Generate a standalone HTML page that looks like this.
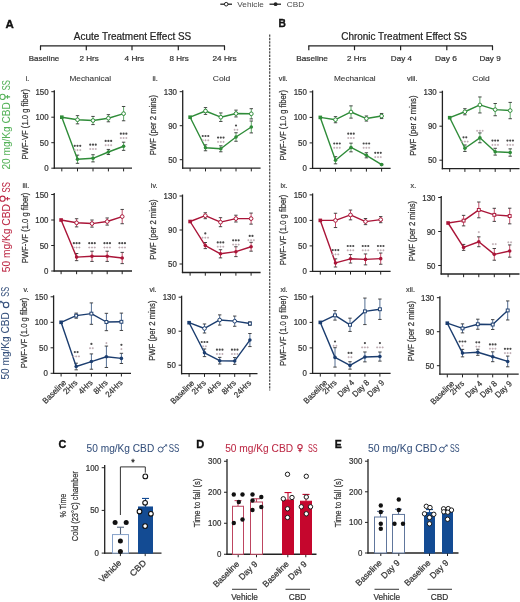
<!DOCTYPE html>
<html><head><meta charset="utf-8"><style>
html,body{margin:0;padding:0;background:#fff;}
body{width:520px;height:602px;overflow:hidden;}
svg{display:block;font-family:"Liberation Sans",sans-serif;filter:blur(0.3px);}
</style></head><body>
<svg width="520" height="602" viewBox="0 0 520 602">
<rect width="520" height="602" fill="#fff"/>
<line x1="220.30" y1="4.20" x2="232.00" y2="4.20" stroke="#222" stroke-width="1.3"/>
<circle cx="226.2" cy="4.2" r="1.8" fill="#fff" stroke="#222" stroke-width="1.0"/>
<text x="237.30" y="7.00" font-size="7.8" fill="#4a4a4a" text-anchor="start" font-weight="normal" textLength="26.5" lengthAdjust="spacingAndGlyphs">Vehicle</text>
<line x1="269.50" y1="4.20" x2="281.00" y2="4.20" stroke="#222" stroke-width="1.3"/>
<circle cx="275.6" cy="4.2" r="1.9" fill="#222"/>
<text x="286.80" y="7.00" font-size="7.8" fill="#4a4a4a" text-anchor="start" font-weight="normal" textLength="17.4" lengthAdjust="spacingAndGlyphs">CBD</text>
<text x="5.50" y="28.20" font-size="11" fill="#111" stroke="#111" stroke-width="0.35" text-anchor="start" font-weight="bold" textLength="8.3" lengthAdjust="spacingAndGlyphs">A</text>
<text x="278.60" y="27.30" font-size="11" fill="#111" stroke="#111" stroke-width="0.35" text-anchor="start" font-weight="bold" textLength="7.4" lengthAdjust="spacingAndGlyphs">B</text>
<text x="73.80" y="40.00" font-size="10.3" fill="#222" stroke="#222" stroke-width="0.22" text-anchor="start" font-weight="normal" textLength="117.5" lengthAdjust="spacingAndGlyphs">Acute Treatment Effect SS</text>
<text x="341.30" y="40.00" font-size="10.3" fill="#222" stroke="#222" stroke-width="0.22" text-anchor="start" font-weight="normal" textLength="125.7" lengthAdjust="spacingAndGlyphs">Chronic Treatment Effect SS</text>
<line x1="40.00" y1="45.80" x2="225.00" y2="45.80" stroke="#222" stroke-width="1.2"/>
<line x1="40.50" y1="45.80" x2="40.50" y2="50.20" stroke="#222" stroke-width="1.2"/>
<line x1="86.30" y1="45.80" x2="86.30" y2="50.20" stroke="#222" stroke-width="1.2"/>
<line x1="132.00" y1="45.80" x2="132.00" y2="50.20" stroke="#222" stroke-width="1.2"/>
<line x1="178.30" y1="45.80" x2="178.30" y2="50.20" stroke="#222" stroke-width="1.2"/>
<line x1="224.50" y1="45.80" x2="224.50" y2="50.20" stroke="#222" stroke-width="1.2"/>
<text x="44.00" y="60.60" font-size="7.6" fill="#333" stroke="#333" stroke-width="0.22" text-anchor="middle" font-weight="normal" textLength="30.5" lengthAdjust="spacingAndGlyphs">Baseline</text>
<text x="89.10" y="60.60" font-size="7.6" fill="#333" stroke="#333" stroke-width="0.22" text-anchor="middle" font-weight="normal" textLength="19.2" lengthAdjust="spacingAndGlyphs">2 Hrs</text>
<text x="134.40" y="60.60" font-size="7.6" fill="#333" stroke="#333" stroke-width="0.22" text-anchor="middle" font-weight="normal" textLength="19.7" lengthAdjust="spacingAndGlyphs">4 Hrs</text>
<text x="179.10" y="60.60" font-size="7.6" fill="#333" stroke="#333" stroke-width="0.22" text-anchor="middle" font-weight="normal" textLength="19.2" lengthAdjust="spacingAndGlyphs">8 Hrs</text>
<text x="224.60" y="60.60" font-size="7.6" fill="#333" stroke="#333" stroke-width="0.22" text-anchor="middle" font-weight="normal" textLength="24.2" lengthAdjust="spacingAndGlyphs">24 Hrs</text>
<line x1="308.30" y1="45.80" x2="493.00" y2="45.80" stroke="#222" stroke-width="1.2"/>
<line x1="308.80" y1="45.80" x2="308.80" y2="50.20" stroke="#222" stroke-width="1.2"/>
<line x1="354.50" y1="45.80" x2="354.50" y2="50.20" stroke="#222" stroke-width="1.2"/>
<line x1="400.60" y1="45.80" x2="400.60" y2="50.20" stroke="#222" stroke-width="1.2"/>
<line x1="446.80" y1="45.80" x2="446.80" y2="50.20" stroke="#222" stroke-width="1.2"/>
<line x1="492.50" y1="45.80" x2="492.50" y2="50.20" stroke="#222" stroke-width="1.2"/>
<text x="312.10" y="60.60" font-size="7.6" fill="#333" stroke="#333" stroke-width="0.22" text-anchor="middle" font-weight="normal" textLength="31.7" lengthAdjust="spacingAndGlyphs">Baseline</text>
<text x="356.60" y="60.60" font-size="7.6" fill="#333" stroke="#333" stroke-width="0.22" text-anchor="middle" font-weight="normal" textLength="19.2" lengthAdjust="spacingAndGlyphs">2 Hrs</text>
<text x="401.40" y="60.60" font-size="7.6" fill="#333" stroke="#333" stroke-width="0.22" text-anchor="middle" font-weight="normal" textLength="21.2" lengthAdjust="spacingAndGlyphs">Day 4</text>
<text x="446.00" y="60.60" font-size="7.6" fill="#333" stroke="#333" stroke-width="0.22" text-anchor="middle" font-weight="normal" textLength="22.0" lengthAdjust="spacingAndGlyphs">Day 6</text>
<text x="490.10" y="60.60" font-size="7.6" fill="#333" stroke="#333" stroke-width="0.22" text-anchor="middle" font-weight="normal" textLength="21.2" lengthAdjust="spacingAndGlyphs">Day 9</text>
<line x1="269.7" y1="34.5" x2="269.7" y2="390.5" stroke="#4a4a4a" stroke-width="1.25" stroke-dasharray="2.3,1.05"/>
<g transform="translate(9.90,169.50) rotate(-90)" fill="#55b259" font-size="10.6">
<text x="0" y="0" textLength="67.3" lengthAdjust="spacingAndGlyphs" stroke="#55b259" stroke-width="0.05">20 mg/Kg CBD</text>
<circle cx="72.60" cy="-7.40" r="2.6" fill="none" stroke="#55b259" stroke-width="1.1"/><path d="M72.60,-4.80V0.2M70.80,-2.40H74.40" stroke="#55b259" stroke-width="1.1" fill="none"/>
<text x="79.3" y="0" textLength="10.1" lengthAdjust="spacingAndGlyphs" stroke="#55b259" stroke-width="0.05">SS</text>
</g>
<g transform="translate(9.90,272.20) rotate(-90)" fill="#bd2945" font-size="10.6">
<text x="0" y="0" textLength="68.0" lengthAdjust="spacingAndGlyphs" stroke="#bd2945" stroke-width="0.05">50 mg/Kg CBD</text>
<circle cx="73.50" cy="-7.40" r="2.6" fill="none" stroke="#bd2945" stroke-width="1.1"/><path d="M73.50,-4.80V0.2M71.70,-2.40H75.30" stroke="#bd2945" stroke-width="1.1" fill="none"/>
<text x="79.7" y="0" textLength="10.4" lengthAdjust="spacingAndGlyphs" stroke="#bd2945" stroke-width="0.05">SS</text>
</g>
<g transform="translate(8.90,379.50) rotate(-90)" fill="#35507c" font-size="10.6">
<text x="0" y="0" textLength="67.3" lengthAdjust="spacingAndGlyphs" stroke="#35507c" stroke-width="0.05">50 mg/Kg CBD</text>
<circle cx="74.60" cy="-2.80" r="2.7" fill="none" stroke="#35507c" stroke-width="1.1"/><path d="M76.02,-5.09L78.20,-8.60" stroke="#35507c" stroke-width="1.1" fill="none"/><path d="M76.20,-8.60H78.20V-6.60" stroke="#35507c" stroke-width="0.7" fill="none"/>
<text x="82.7" y="0" textLength="9.9" lengthAdjust="spacingAndGlyphs" stroke="#35507c" stroke-width="0.05">SS</text>
</g>
<line x1="54.30" y1="90.20" x2="54.30" y2="168.80" stroke="#222" stroke-width="1.3"/>
<line x1="53.70" y1="168.20" x2="132.00" y2="168.20" stroke="#222" stroke-width="1.3"/>
<line x1="51.30" y1="91.70" x2="54.30" y2="91.70" stroke="#222" stroke-width="1.0"/>
<text x="48.60" y="94.70" font-size="8.6" fill="#333" stroke="#333" stroke-width="0.22" text-anchor="end" font-weight="normal" textLength="13.200000000000001" lengthAdjust="spacingAndGlyphs">150</text>
<line x1="51.30" y1="117.20" x2="54.30" y2="117.20" stroke="#222" stroke-width="1.0"/>
<text x="48.60" y="120.20" font-size="8.6" fill="#333" stroke="#333" stroke-width="0.22" text-anchor="end" font-weight="normal" textLength="13.200000000000001" lengthAdjust="spacingAndGlyphs">100</text>
<line x1="51.30" y1="142.70" x2="54.30" y2="142.70" stroke="#222" stroke-width="1.0"/>
<text x="48.60" y="145.70" font-size="8.6" fill="#333" stroke="#333" stroke-width="0.22" text-anchor="end" font-weight="normal" textLength="8.8" lengthAdjust="spacingAndGlyphs">50</text>
<line x1="51.30" y1="168.20" x2="54.30" y2="168.20" stroke="#222" stroke-width="1.0"/>
<text x="48.60" y="171.20" font-size="8.6" fill="#333" stroke="#333" stroke-width="0.22" text-anchor="end" font-weight="normal" textLength="4.4" lengthAdjust="spacingAndGlyphs">0</text>
<line x1="61.80" y1="168.20" x2="61.80" y2="171.40" stroke="#222" stroke-width="1.0"/>
<line x1="77.50" y1="168.20" x2="77.50" y2="171.40" stroke="#222" stroke-width="1.0"/>
<line x1="93.00" y1="168.20" x2="93.00" y2="171.40" stroke="#222" stroke-width="1.0"/>
<line x1="108.40" y1="168.20" x2="108.40" y2="171.40" stroke="#222" stroke-width="1.0"/>
<line x1="123.60" y1="168.20" x2="123.60" y2="171.40" stroke="#222" stroke-width="1.0"/>
<text transform="translate(28.00,124.30) rotate(-90)" font-size="8.6" fill="#333" stroke="#333" stroke-width="0.22" text-anchor="middle" font-weight="normal" textLength="70.5" lengthAdjust="spacingAndGlyphs">PWF-VF (1.0 g fiber)</text>
<text x="29.30" y="81.00" font-size="7.2" fill="#444" stroke="#444" stroke-width="0.22" text-anchor="end" font-weight="normal">i.</text>
<text x="90.30" y="81.20" font-size="8.1" fill="#333" stroke="#333" stroke-width="0.08" text-anchor="middle" font-weight="normal" textLength="41.7" lengthAdjust="spacingAndGlyphs">Mechanical</text>
<line x1="77.50" y1="123.83" x2="77.50" y2="115.67" stroke="#2f8c39" stroke-width="1.0" stroke-opacity="0.75"/>
<line x1="75.80" y1="123.83" x2="79.20" y2="123.83" stroke="#333" stroke-width="0.9"/>
<line x1="75.80" y1="115.67" x2="79.20" y2="115.67" stroke="#333" stroke-width="0.9"/>
<line x1="93.00" y1="124.59" x2="93.00" y2="116.43" stroke="#2f8c39" stroke-width="1.0" stroke-opacity="0.75"/>
<line x1="91.30" y1="124.59" x2="94.70" y2="124.59" stroke="#333" stroke-width="0.9"/>
<line x1="91.30" y1="116.43" x2="94.70" y2="116.43" stroke="#333" stroke-width="0.9"/>
<line x1="108.40" y1="121.79" x2="108.40" y2="114.65" stroke="#2f8c39" stroke-width="1.0" stroke-opacity="0.75"/>
<line x1="106.70" y1="121.79" x2="110.10" y2="121.79" stroke="#333" stroke-width="0.9"/>
<line x1="106.70" y1="114.65" x2="110.10" y2="114.65" stroke="#333" stroke-width="0.9"/>
<line x1="123.60" y1="120.77" x2="123.60" y2="106.49" stroke="#2f8c39" stroke-width="1.0" stroke-opacity="0.75"/>
<line x1="121.90" y1="120.77" x2="125.30" y2="120.77" stroke="#333" stroke-width="0.9"/>
<line x1="121.90" y1="106.49" x2="125.30" y2="106.49" stroke="#333" stroke-width="0.9"/>
<line x1="77.50" y1="163.30" x2="77.50" y2="155.14" stroke="#2f8c39" stroke-width="1.0" stroke-opacity="0.75"/>
<line x1="75.80" y1="163.30" x2="79.20" y2="163.30" stroke="#333" stroke-width="0.9"/>
<line x1="75.80" y1="155.14" x2="79.20" y2="155.14" stroke="#333" stroke-width="0.9"/>
<line x1="93.00" y1="161.88" x2="93.00" y2="154.74" stroke="#2f8c39" stroke-width="1.0" stroke-opacity="0.75"/>
<line x1="91.30" y1="161.88" x2="94.70" y2="161.88" stroke="#333" stroke-width="0.9"/>
<line x1="91.30" y1="154.74" x2="94.70" y2="154.74" stroke="#333" stroke-width="0.9"/>
<line x1="108.40" y1="154.53" x2="108.40" y2="149.43" stroke="#2f8c39" stroke-width="1.0" stroke-opacity="0.75"/>
<line x1="106.70" y1="154.53" x2="110.10" y2="154.53" stroke="#333" stroke-width="0.9"/>
<line x1="106.70" y1="149.43" x2="110.10" y2="149.43" stroke="#333" stroke-width="0.9"/>
<line x1="123.60" y1="150.35" x2="123.60" y2="142.19" stroke="#2f8c39" stroke-width="1.0" stroke-opacity="0.75"/>
<line x1="121.90" y1="150.35" x2="125.30" y2="150.35" stroke="#333" stroke-width="0.9"/>
<line x1="121.90" y1="142.19" x2="125.30" y2="142.19" stroke="#333" stroke-width="0.9"/>
<polyline points="61.80,117.20 77.50,119.75 93.00,120.51 108.40,118.22 123.60,113.63" fill="none" stroke="#2f8c39" stroke-width="1.4" stroke-linejoin="round"/>
<polyline points="61.80,117.20 77.50,159.22 93.00,158.31 108.40,151.98 123.60,146.27" fill="none" stroke="#2f8c39" stroke-width="1.4" stroke-linejoin="round"/>
<circle cx="77.50" cy="119.75" r="1.85" fill="#fff" stroke="#2f8c39" stroke-width="1.0"/>
<circle cx="93.00" cy="120.51" r="1.85" fill="#fff" stroke="#2f8c39" stroke-width="1.0"/>
<circle cx="108.40" cy="118.22" r="1.85" fill="#fff" stroke="#2f8c39" stroke-width="1.0"/>
<circle cx="123.60" cy="113.63" r="1.85" fill="#fff" stroke="#2f8c39" stroke-width="1.0"/>
<circle cx="77.50" cy="159.22" r="1.8" fill="#2f8c39"/>
<circle cx="93.00" cy="158.31" r="1.8" fill="#2f8c39"/>
<circle cx="108.40" cy="151.98" r="1.8" fill="#2f8c39"/>
<circle cx="123.60" cy="146.27" r="1.8" fill="#2f8c39"/>
<rect x="60.00" y="115.40" width="3.6" height="3.6" fill="#2f8c39"/>
<circle cx="74.75" cy="145.80" r="1.1" fill="#4a4a4a"/>
<circle cx="77.50" cy="145.80" r="1.1" fill="#4a4a4a"/>
<circle cx="80.25" cy="145.80" r="1.1" fill="#4a4a4a"/>
<path d="M73.75,150.10h2.0M74.75,149.10v2.0" stroke="#b8a3ab" stroke-width="0.8"/>
<path d="M76.50,150.10h2.0M77.50,149.10v2.0" stroke="#b8a3ab" stroke-width="0.8"/>
<path d="M79.25,150.10h2.0M80.25,149.10v2.0" stroke="#b8a3ab" stroke-width="0.8"/>
<circle cx="90.25" cy="144.70" r="1.1" fill="#4a4a4a"/>
<circle cx="93.00" cy="144.70" r="1.1" fill="#4a4a4a"/>
<circle cx="95.75" cy="144.70" r="1.1" fill="#4a4a4a"/>
<path d="M89.25,149.00h2.0M90.25,148.00v2.0" stroke="#b8a3ab" stroke-width="0.8"/>
<path d="M92.00,149.00h2.0M93.00,148.00v2.0" stroke="#b8a3ab" stroke-width="0.8"/>
<path d="M94.75,149.00h2.0M95.75,148.00v2.0" stroke="#b8a3ab" stroke-width="0.8"/>
<circle cx="105.65" cy="140.90" r="1.1" fill="#4a4a4a"/>
<circle cx="108.40" cy="140.90" r="1.1" fill="#4a4a4a"/>
<circle cx="111.15" cy="140.90" r="1.1" fill="#4a4a4a"/>
<path d="M104.65,145.20h2.0M105.65,144.20v2.0" stroke="#b8a3ab" stroke-width="0.8"/>
<path d="M107.40,145.20h2.0M108.40,144.20v2.0" stroke="#b8a3ab" stroke-width="0.8"/>
<path d="M110.15,145.20h2.0M111.15,144.20v2.0" stroke="#b8a3ab" stroke-width="0.8"/>
<circle cx="120.85" cy="133.70" r="1.1" fill="#4a4a4a"/>
<circle cx="123.60" cy="133.70" r="1.1" fill="#4a4a4a"/>
<circle cx="126.35" cy="133.70" r="1.1" fill="#4a4a4a"/>
<path d="M119.85,138.00h2.0M120.85,137.00v2.0" stroke="#b8a3ab" stroke-width="0.8"/>
<path d="M122.60,138.00h2.0M123.60,137.00v2.0" stroke="#b8a3ab" stroke-width="0.8"/>
<path d="M125.35,138.00h2.0M126.35,137.00v2.0" stroke="#b8a3ab" stroke-width="0.8"/>
<line x1="182.70" y1="90.20" x2="182.70" y2="168.80" stroke="#222" stroke-width="1.3"/>
<line x1="182.10" y1="168.20" x2="260.60" y2="168.20" stroke="#222" stroke-width="1.3"/>
<line x1="179.70" y1="91.70" x2="182.70" y2="91.70" stroke="#222" stroke-width="1.0"/>
<text x="177.00" y="94.70" font-size="8.6" fill="#333" stroke="#333" stroke-width="0.22" text-anchor="end" font-weight="normal" textLength="13.200000000000001" lengthAdjust="spacingAndGlyphs">130</text>
<line x1="179.70" y1="125.70" x2="182.70" y2="125.70" stroke="#222" stroke-width="1.0"/>
<text x="177.00" y="128.70" font-size="8.6" fill="#333" stroke="#333" stroke-width="0.22" text-anchor="end" font-weight="normal" textLength="8.8" lengthAdjust="spacingAndGlyphs">90</text>
<line x1="179.70" y1="159.70" x2="182.70" y2="159.70" stroke="#222" stroke-width="1.0"/>
<text x="177.00" y="162.70" font-size="8.6" fill="#333" stroke="#333" stroke-width="0.22" text-anchor="end" font-weight="normal" textLength="8.8" lengthAdjust="spacingAndGlyphs">50</text>
<line x1="190.10" y1="168.20" x2="190.10" y2="171.40" stroke="#222" stroke-width="1.0"/>
<line x1="205.50" y1="168.20" x2="205.50" y2="171.40" stroke="#222" stroke-width="1.0"/>
<line x1="220.80" y1="168.20" x2="220.80" y2="171.40" stroke="#222" stroke-width="1.0"/>
<line x1="236.00" y1="168.20" x2="236.00" y2="171.40" stroke="#222" stroke-width="1.0"/>
<line x1="251.30" y1="168.20" x2="251.30" y2="171.40" stroke="#222" stroke-width="1.0"/>
<text transform="translate(156.40,125.20) rotate(-90)" font-size="8.6" fill="#333" stroke="#333" stroke-width="0.22" text-anchor="middle" font-weight="normal" textLength="60.3" lengthAdjust="spacingAndGlyphs">PWF (per 2 mins)</text>
<text x="157.70" y="81.00" font-size="7.2" fill="#444" stroke="#444" stroke-width="0.22" text-anchor="end" font-weight="normal">ii.</text>
<text x="221.50" y="81.20" font-size="8.1" fill="#333" stroke="#333" stroke-width="0.08" text-anchor="middle" font-weight="normal" textLength="17.5" lengthAdjust="spacingAndGlyphs">Cold</text>
<line x1="205.50" y1="114.39" x2="205.50" y2="107.59" stroke="#2f8c39" stroke-width="1.0" stroke-opacity="0.75"/>
<line x1="203.80" y1="114.39" x2="207.20" y2="114.39" stroke="#333" stroke-width="0.9"/>
<line x1="203.80" y1="107.59" x2="207.20" y2="107.59" stroke="#333" stroke-width="0.9"/>
<line x1="220.80" y1="121.45" x2="220.80" y2="112.95" stroke="#2f8c39" stroke-width="1.0" stroke-opacity="0.75"/>
<line x1="219.10" y1="121.45" x2="222.50" y2="121.45" stroke="#333" stroke-width="0.9"/>
<line x1="219.10" y1="112.95" x2="222.50" y2="112.95" stroke="#333" stroke-width="0.9"/>
<line x1="236.00" y1="116.94" x2="236.00" y2="110.14" stroke="#2f8c39" stroke-width="1.0" stroke-opacity="0.75"/>
<line x1="234.30" y1="116.94" x2="237.70" y2="116.94" stroke="#333" stroke-width="0.9"/>
<line x1="234.30" y1="110.14" x2="237.70" y2="110.14" stroke="#333" stroke-width="0.9"/>
<line x1="251.30" y1="118.90" x2="251.30" y2="108.70" stroke="#2f8c39" stroke-width="1.0" stroke-opacity="0.75"/>
<line x1="249.60" y1="118.90" x2="253.00" y2="118.90" stroke="#333" stroke-width="0.9"/>
<line x1="249.60" y1="108.70" x2="253.00" y2="108.70" stroke="#333" stroke-width="0.9"/>
<line x1="205.50" y1="150.77" x2="205.50" y2="144.82" stroke="#2f8c39" stroke-width="1.0" stroke-opacity="0.75"/>
<line x1="203.80" y1="150.77" x2="207.20" y2="150.77" stroke="#333" stroke-width="0.9"/>
<line x1="203.80" y1="144.82" x2="207.20" y2="144.82" stroke="#333" stroke-width="0.9"/>
<line x1="220.80" y1="151.79" x2="220.80" y2="145.84" stroke="#2f8c39" stroke-width="1.0" stroke-opacity="0.75"/>
<line x1="219.10" y1="151.79" x2="222.50" y2="151.79" stroke="#333" stroke-width="0.9"/>
<line x1="219.10" y1="145.84" x2="222.50" y2="145.84" stroke="#333" stroke-width="0.9"/>
<line x1="236.00" y1="141.25" x2="236.00" y2="132.75" stroke="#2f8c39" stroke-width="1.0" stroke-opacity="0.75"/>
<line x1="234.30" y1="141.25" x2="237.70" y2="141.25" stroke="#333" stroke-width="0.9"/>
<line x1="234.30" y1="132.75" x2="237.70" y2="132.75" stroke="#333" stroke-width="0.9"/>
<line x1="251.30" y1="132.92" x2="251.30" y2="121.02" stroke="#2f8c39" stroke-width="1.0" stroke-opacity="0.75"/>
<line x1="249.60" y1="132.92" x2="253.00" y2="132.92" stroke="#333" stroke-width="0.9"/>
<line x1="249.60" y1="121.02" x2="253.00" y2="121.02" stroke="#333" stroke-width="0.9"/>
<polyline points="190.10,117.20 205.50,110.99 220.80,117.20 236.00,113.54 251.30,113.80" fill="none" stroke="#2f8c39" stroke-width="1.4" stroke-linejoin="round"/>
<polyline points="190.10,117.20 205.50,147.80 220.80,148.82 236.00,137.00 251.30,126.97" fill="none" stroke="#2f8c39" stroke-width="1.4" stroke-linejoin="round"/>
<circle cx="205.50" cy="110.99" r="1.85" fill="#fff" stroke="#2f8c39" stroke-width="1.0"/>
<circle cx="220.80" cy="117.20" r="1.85" fill="#fff" stroke="#2f8c39" stroke-width="1.0"/>
<circle cx="236.00" cy="113.54" r="1.85" fill="#fff" stroke="#2f8c39" stroke-width="1.0"/>
<circle cx="251.30" cy="113.80" r="1.85" fill="#fff" stroke="#2f8c39" stroke-width="1.0"/>
<circle cx="205.50" cy="147.80" r="1.8" fill="#2f8c39"/>
<circle cx="220.80" cy="148.82" r="1.8" fill="#2f8c39"/>
<circle cx="236.00" cy="137.00" r="1.8" fill="#2f8c39"/>
<circle cx="251.30" cy="126.97" r="1.8" fill="#2f8c39"/>
<rect x="188.30" y="115.40" width="3.6" height="3.6" fill="#2f8c39"/>
<circle cx="202.75" cy="136.00" r="1.1" fill="#4a4a4a"/>
<circle cx="205.50" cy="136.00" r="1.1" fill="#4a4a4a"/>
<circle cx="208.25" cy="136.00" r="1.1" fill="#4a4a4a"/>
<path d="M201.75,140.30h2.0M202.75,139.30v2.0" stroke="#b8a3ab" stroke-width="0.8"/>
<path d="M204.50,140.30h2.0M205.50,139.30v2.0" stroke="#b8a3ab" stroke-width="0.8"/>
<path d="M207.25,140.30h2.0M208.25,139.30v2.0" stroke="#b8a3ab" stroke-width="0.8"/>
<circle cx="218.05" cy="137.60" r="1.1" fill="#4a4a4a"/>
<circle cx="220.80" cy="137.60" r="1.1" fill="#4a4a4a"/>
<circle cx="223.55" cy="137.60" r="1.1" fill="#4a4a4a"/>
<path d="M217.05,141.90h2.0M218.05,140.90v2.0" stroke="#b8a3ab" stroke-width="0.8"/>
<path d="M219.80,141.90h2.0M220.80,140.90v2.0" stroke="#b8a3ab" stroke-width="0.8"/>
<path d="M222.55,141.90h2.0M223.55,140.90v2.0" stroke="#b8a3ab" stroke-width="0.8"/>
<circle cx="236.00" cy="125.50" r="1.1" fill="#4a4a4a"/>
<path d="M233.62,129.80h2.0M234.62,128.80v2.0" stroke="#b8a3ab" stroke-width="0.8"/>
<path d="M236.38,129.80h2.0M237.38,128.80v2.0" stroke="#b8a3ab" stroke-width="0.8"/>
<line x1="312.60" y1="90.40" x2="312.60" y2="169.00" stroke="#222" stroke-width="1.3"/>
<line x1="312.00" y1="168.40" x2="390.60" y2="168.40" stroke="#222" stroke-width="1.3"/>
<line x1="309.60" y1="91.90" x2="312.60" y2="91.90" stroke="#222" stroke-width="1.0"/>
<text x="306.90" y="94.90" font-size="8.6" fill="#333" stroke="#333" stroke-width="0.22" text-anchor="end" font-weight="normal" textLength="13.200000000000001" lengthAdjust="spacingAndGlyphs">150</text>
<line x1="309.60" y1="117.40" x2="312.60" y2="117.40" stroke="#222" stroke-width="1.0"/>
<text x="306.90" y="120.40" font-size="8.6" fill="#333" stroke="#333" stroke-width="0.22" text-anchor="end" font-weight="normal" textLength="13.200000000000001" lengthAdjust="spacingAndGlyphs">100</text>
<line x1="309.60" y1="142.90" x2="312.60" y2="142.90" stroke="#222" stroke-width="1.0"/>
<text x="306.90" y="145.90" font-size="8.6" fill="#333" stroke="#333" stroke-width="0.22" text-anchor="end" font-weight="normal" textLength="8.8" lengthAdjust="spacingAndGlyphs">50</text>
<line x1="309.60" y1="168.40" x2="312.60" y2="168.40" stroke="#222" stroke-width="1.0"/>
<text x="306.90" y="171.40" font-size="8.6" fill="#333" stroke="#333" stroke-width="0.22" text-anchor="end" font-weight="normal" textLength="4.4" lengthAdjust="spacingAndGlyphs">0</text>
<line x1="320.30" y1="168.40" x2="320.30" y2="171.60" stroke="#222" stroke-width="1.0"/>
<line x1="335.50" y1="168.40" x2="335.50" y2="171.60" stroke="#222" stroke-width="1.0"/>
<line x1="351.00" y1="168.40" x2="351.00" y2="171.60" stroke="#222" stroke-width="1.0"/>
<line x1="366.40" y1="168.40" x2="366.40" y2="171.60" stroke="#222" stroke-width="1.0"/>
<line x1="381.60" y1="168.40" x2="381.60" y2="171.60" stroke="#222" stroke-width="1.0"/>
<text transform="translate(286.30,125.30) rotate(-90)" font-size="8.6" fill="#333" stroke="#333" stroke-width="0.22" text-anchor="middle" font-weight="normal" textLength="70.5" lengthAdjust="spacingAndGlyphs">PWF-VF (1.0 g fiber)</text>
<text x="287.60" y="81.00" font-size="7.2" fill="#444" stroke="#444" stroke-width="0.22" text-anchor="end" font-weight="normal">vii.</text>
<text x="354.80" y="81.20" font-size="8.1" fill="#333" stroke="#333" stroke-width="0.08" text-anchor="middle" font-weight="normal" textLength="41.7" lengthAdjust="spacingAndGlyphs">Mechanical</text>
<line x1="335.50" y1="122.75" x2="335.50" y2="116.64" stroke="#2f8c39" stroke-width="1.0" stroke-opacity="0.75"/>
<line x1="333.80" y1="122.75" x2="337.20" y2="122.75" stroke="#333" stroke-width="0.9"/>
<line x1="333.80" y1="116.64" x2="337.20" y2="116.64" stroke="#333" stroke-width="0.9"/>
<line x1="351.00" y1="118.11" x2="351.00" y2="105.87" stroke="#2f8c39" stroke-width="1.0" stroke-opacity="0.75"/>
<line x1="349.30" y1="118.11" x2="352.70" y2="118.11" stroke="#333" stroke-width="0.9"/>
<line x1="349.30" y1="105.87" x2="352.70" y2="105.87" stroke="#333" stroke-width="0.9"/>
<line x1="366.40" y1="121.07" x2="366.40" y2="115.97" stroke="#2f8c39" stroke-width="1.0" stroke-opacity="0.75"/>
<line x1="364.70" y1="121.07" x2="368.10" y2="121.07" stroke="#333" stroke-width="0.9"/>
<line x1="364.70" y1="115.97" x2="368.10" y2="115.97" stroke="#333" stroke-width="0.9"/>
<line x1="381.60" y1="118.57" x2="381.60" y2="113.47" stroke="#2f8c39" stroke-width="1.0" stroke-opacity="0.75"/>
<line x1="379.90" y1="118.57" x2="383.30" y2="118.57" stroke="#333" stroke-width="0.9"/>
<line x1="379.90" y1="113.47" x2="383.30" y2="113.47" stroke="#333" stroke-width="0.9"/>
<line x1="335.50" y1="163.81" x2="335.50" y2="156.67" stroke="#2f8c39" stroke-width="1.0" stroke-opacity="0.75"/>
<line x1="333.80" y1="163.81" x2="337.20" y2="163.81" stroke="#333" stroke-width="0.9"/>
<line x1="333.80" y1="156.67" x2="337.20" y2="156.67" stroke="#333" stroke-width="0.9"/>
<line x1="351.00" y1="151.83" x2="351.00" y2="143.16" stroke="#2f8c39" stroke-width="1.0" stroke-opacity="0.75"/>
<line x1="349.30" y1="151.83" x2="352.70" y2="151.83" stroke="#333" stroke-width="0.9"/>
<line x1="349.30" y1="143.16" x2="352.70" y2="143.16" stroke="#333" stroke-width="0.9"/>
<line x1="366.40" y1="157.84" x2="366.40" y2="152.74" stroke="#2f8c39" stroke-width="1.0" stroke-opacity="0.75"/>
<line x1="364.70" y1="157.84" x2="368.10" y2="157.84" stroke="#333" stroke-width="0.9"/>
<line x1="364.70" y1="152.74" x2="368.10" y2="152.74" stroke="#333" stroke-width="0.9"/>
<line x1="381.60" y1="165.09" x2="381.60" y2="164.06" stroke="#2f8c39" stroke-width="1.0" stroke-opacity="0.75"/>
<line x1="379.90" y1="165.09" x2="383.30" y2="165.09" stroke="#333" stroke-width="0.9"/>
<line x1="379.90" y1="164.06" x2="383.30" y2="164.06" stroke="#333" stroke-width="0.9"/>
<polyline points="320.30,117.40 335.50,119.70 351.00,111.99 366.40,118.52 381.60,116.02" fill="none" stroke="#2f8c39" stroke-width="1.4" stroke-linejoin="round"/>
<polyline points="320.30,117.40 335.50,160.24 351.00,147.49 366.40,155.29 381.60,164.58" fill="none" stroke="#2f8c39" stroke-width="1.4" stroke-linejoin="round"/>
<circle cx="335.50" cy="119.70" r="1.85" fill="#fff" stroke="#2f8c39" stroke-width="1.0"/>
<circle cx="351.00" cy="111.99" r="1.85" fill="#fff" stroke="#2f8c39" stroke-width="1.0"/>
<circle cx="366.40" cy="118.52" r="1.85" fill="#fff" stroke="#2f8c39" stroke-width="1.0"/>
<circle cx="381.60" cy="116.02" r="1.85" fill="#fff" stroke="#2f8c39" stroke-width="1.0"/>
<circle cx="335.50" cy="160.24" r="1.8" fill="#2f8c39"/>
<circle cx="351.00" cy="147.49" r="1.8" fill="#2f8c39"/>
<circle cx="366.40" cy="155.29" r="1.8" fill="#2f8c39"/>
<circle cx="381.60" cy="164.58" r="1.8" fill="#2f8c39"/>
<rect x="318.50" y="115.60" width="3.6" height="3.6" fill="#2f8c39"/>
<circle cx="334.25" cy="143.50" r="1.1" fill="#4a4a4a"/>
<circle cx="337.00" cy="143.50" r="1.1" fill="#4a4a4a"/>
<circle cx="339.75" cy="143.50" r="1.1" fill="#4a4a4a"/>
<path d="M333.25,147.80h2.0M334.25,146.80v2.0" stroke="#b8a3ab" stroke-width="0.8"/>
<path d="M336.00,147.80h2.0M337.00,146.80v2.0" stroke="#b8a3ab" stroke-width="0.8"/>
<path d="M338.75,147.80h2.0M339.75,146.80v2.0" stroke="#b8a3ab" stroke-width="0.8"/>
<circle cx="348.25" cy="133.70" r="1.1" fill="#4a4a4a"/>
<circle cx="351.00" cy="133.70" r="1.1" fill="#4a4a4a"/>
<circle cx="353.75" cy="133.70" r="1.1" fill="#4a4a4a"/>
<path d="M347.25,138.00h2.0M348.25,137.00v2.0" stroke="#b8a3ab" stroke-width="0.8"/>
<path d="M350.00,138.00h2.0M351.00,137.00v2.0" stroke="#b8a3ab" stroke-width="0.8"/>
<path d="M352.75,138.00h2.0M353.75,137.00v2.0" stroke="#b8a3ab" stroke-width="0.8"/>
<circle cx="363.65" cy="143.50" r="1.1" fill="#4a4a4a"/>
<circle cx="366.40" cy="143.50" r="1.1" fill="#4a4a4a"/>
<circle cx="369.15" cy="143.50" r="1.1" fill="#4a4a4a"/>
<path d="M362.65,147.80h2.0M363.65,146.80v2.0" stroke="#b8a3ab" stroke-width="0.8"/>
<path d="M365.40,147.80h2.0M366.40,146.80v2.0" stroke="#b8a3ab" stroke-width="0.8"/>
<path d="M368.15,147.80h2.0M369.15,146.80v2.0" stroke="#b8a3ab" stroke-width="0.8"/>
<circle cx="375.25" cy="152.80" r="1.1" fill="#4a4a4a"/>
<circle cx="378.00" cy="152.80" r="1.1" fill="#4a4a4a"/>
<circle cx="380.75" cy="152.80" r="1.1" fill="#4a4a4a"/>
<path d="M374.25,157.10h2.0M375.25,156.10v2.0" stroke="#b8a3ab" stroke-width="0.8"/>
<path d="M377.00,157.10h2.0M378.00,156.10v2.0" stroke="#b8a3ab" stroke-width="0.8"/>
<path d="M379.75,157.10h2.0M380.75,156.10v2.0" stroke="#b8a3ab" stroke-width="0.8"/>
<line x1="442.40" y1="90.70" x2="442.40" y2="169.30" stroke="#222" stroke-width="1.3"/>
<line x1="441.80" y1="168.70" x2="519.50" y2="168.70" stroke="#222" stroke-width="1.3"/>
<line x1="439.40" y1="92.20" x2="442.40" y2="92.20" stroke="#222" stroke-width="1.0"/>
<text x="436.70" y="95.20" font-size="8.6" fill="#333" stroke="#333" stroke-width="0.22" text-anchor="end" font-weight="normal" textLength="13.200000000000001" lengthAdjust="spacingAndGlyphs">130</text>
<line x1="439.40" y1="126.20" x2="442.40" y2="126.20" stroke="#222" stroke-width="1.0"/>
<text x="436.70" y="129.20" font-size="8.6" fill="#333" stroke="#333" stroke-width="0.22" text-anchor="end" font-weight="normal" textLength="8.8" lengthAdjust="spacingAndGlyphs">90</text>
<line x1="439.40" y1="160.20" x2="442.40" y2="160.20" stroke="#222" stroke-width="1.0"/>
<text x="436.70" y="163.20" font-size="8.6" fill="#333" stroke="#333" stroke-width="0.22" text-anchor="end" font-weight="normal" textLength="8.8" lengthAdjust="spacingAndGlyphs">50</text>
<line x1="449.70" y1="168.70" x2="449.70" y2="171.90" stroke="#222" stroke-width="1.0"/>
<line x1="464.90" y1="168.70" x2="464.90" y2="171.90" stroke="#222" stroke-width="1.0"/>
<line x1="479.90" y1="168.70" x2="479.90" y2="171.90" stroke="#222" stroke-width="1.0"/>
<line x1="495.20" y1="168.70" x2="495.20" y2="171.90" stroke="#222" stroke-width="1.0"/>
<line x1="510.20" y1="168.70" x2="510.20" y2="171.90" stroke="#222" stroke-width="1.0"/>
<text transform="translate(416.10,125.70) rotate(-90)" font-size="8.6" fill="#333" stroke="#333" stroke-width="0.22" text-anchor="middle" font-weight="normal" textLength="60.3" lengthAdjust="spacingAndGlyphs">PWF (per 2 mins)</text>
<text x="417.40" y="81.00" font-size="7.2" fill="#444" stroke="#444" stroke-width="0.22" text-anchor="end" font-weight="normal">viii.</text>
<text x="481.00" y="81.20" font-size="8.1" fill="#333" stroke="#333" stroke-width="0.08" text-anchor="middle" font-weight="normal" textLength="17.5" lengthAdjust="spacingAndGlyphs">Cold</text>
<line x1="464.90" y1="114.81" x2="464.90" y2="108.69" stroke="#2f8c39" stroke-width="1.0" stroke-opacity="0.75"/>
<line x1="463.20" y1="114.81" x2="466.60" y2="114.81" stroke="#333" stroke-width="0.9"/>
<line x1="463.20" y1="108.69" x2="466.60" y2="108.69" stroke="#333" stroke-width="0.9"/>
<line x1="479.90" y1="112.94" x2="479.90" y2="96.96" stroke="#2f8c39" stroke-width="1.0" stroke-opacity="0.75"/>
<line x1="478.20" y1="112.94" x2="481.60" y2="112.94" stroke="#333" stroke-width="0.9"/>
<line x1="478.20" y1="96.96" x2="481.60" y2="96.96" stroke="#333" stroke-width="0.9"/>
<line x1="495.20" y1="115.74" x2="495.20" y2="103.50" stroke="#2f8c39" stroke-width="1.0" stroke-opacity="0.75"/>
<line x1="493.50" y1="115.74" x2="496.90" y2="115.74" stroke="#333" stroke-width="0.9"/>
<line x1="493.50" y1="103.50" x2="496.90" y2="103.50" stroke="#333" stroke-width="0.9"/>
<line x1="510.20" y1="118.72" x2="510.20" y2="102.40" stroke="#2f8c39" stroke-width="1.0" stroke-opacity="0.75"/>
<line x1="508.50" y1="118.72" x2="511.90" y2="118.72" stroke="#333" stroke-width="0.9"/>
<line x1="508.50" y1="102.40" x2="511.90" y2="102.40" stroke="#333" stroke-width="0.9"/>
<line x1="464.90" y1="151.44" x2="464.90" y2="144.98" stroke="#2f8c39" stroke-width="1.0" stroke-opacity="0.75"/>
<line x1="463.20" y1="151.44" x2="466.60" y2="151.44" stroke="#333" stroke-width="0.9"/>
<line x1="463.20" y1="144.98" x2="466.60" y2="144.98" stroke="#333" stroke-width="0.9"/>
<line x1="479.90" y1="142.77" x2="479.90" y2="132.91" stroke="#2f8c39" stroke-width="1.0" stroke-opacity="0.75"/>
<line x1="478.20" y1="142.77" x2="481.60" y2="142.77" stroke="#333" stroke-width="0.9"/>
<line x1="478.20" y1="132.91" x2="481.60" y2="132.91" stroke="#333" stroke-width="0.9"/>
<line x1="495.20" y1="155.10" x2="495.20" y2="148.30" stroke="#2f8c39" stroke-width="1.0" stroke-opacity="0.75"/>
<line x1="493.50" y1="155.10" x2="496.90" y2="155.10" stroke="#333" stroke-width="0.9"/>
<line x1="493.50" y1="148.30" x2="496.90" y2="148.30" stroke="#333" stroke-width="0.9"/>
<line x1="510.20" y1="156.20" x2="510.20" y2="148.89" stroke="#2f8c39" stroke-width="1.0" stroke-opacity="0.75"/>
<line x1="508.50" y1="156.20" x2="511.90" y2="156.20" stroke="#333" stroke-width="0.9"/>
<line x1="508.50" y1="148.89" x2="511.90" y2="148.89" stroke="#333" stroke-width="0.9"/>
<polyline points="449.70,117.70 464.90,111.75 479.90,104.95 495.20,109.62 510.20,110.56" fill="none" stroke="#2f8c39" stroke-width="1.4" stroke-linejoin="round"/>
<polyline points="449.70,117.70 464.90,148.22 479.90,137.84 495.20,151.70 510.20,152.55" fill="none" stroke="#2f8c39" stroke-width="1.4" stroke-linejoin="round"/>
<circle cx="464.90" cy="111.75" r="1.85" fill="#fff" stroke="#2f8c39" stroke-width="1.0"/>
<circle cx="479.90" cy="104.95" r="1.85" fill="#fff" stroke="#2f8c39" stroke-width="1.0"/>
<circle cx="495.20" cy="109.62" r="1.85" fill="#fff" stroke="#2f8c39" stroke-width="1.0"/>
<circle cx="510.20" cy="110.56" r="1.85" fill="#fff" stroke="#2f8c39" stroke-width="1.0"/>
<circle cx="464.90" cy="148.22" r="1.8" fill="#2f8c39"/>
<circle cx="479.90" cy="137.84" r="1.8" fill="#2f8c39"/>
<circle cx="495.20" cy="151.70" r="1.8" fill="#2f8c39"/>
<circle cx="510.20" cy="152.55" r="1.8" fill="#2f8c39"/>
<rect x="447.90" y="115.90" width="3.6" height="3.6" fill="#2f8c39"/>
<circle cx="463.52" cy="137.30" r="1.1" fill="#4a4a4a"/>
<circle cx="466.27" cy="137.30" r="1.1" fill="#4a4a4a"/>
<path d="M461.15,141.60h2.0M462.15,140.60v2.0" stroke="#b8a3ab" stroke-width="0.8"/>
<path d="M463.90,141.60h2.0M464.90,140.60v2.0" stroke="#b8a3ab" stroke-width="0.8"/>
<path d="M466.65,141.60h2.0M467.65,140.60v2.0" stroke="#b8a3ab" stroke-width="0.8"/>
<path d="M476.15,130.80h2.0M477.15,129.80v2.0" stroke="#b8a3ab" stroke-width="0.8"/>
<path d="M478.90,130.80h2.0M479.90,129.80v2.0" stroke="#b8a3ab" stroke-width="0.8"/>
<path d="M481.65,130.80h2.0M482.65,129.80v2.0" stroke="#b8a3ab" stroke-width="0.8"/>
<circle cx="492.45" cy="140.60" r="1.1" fill="#4a4a4a"/>
<circle cx="495.20" cy="140.60" r="1.1" fill="#4a4a4a"/>
<circle cx="497.95" cy="140.60" r="1.1" fill="#4a4a4a"/>
<path d="M491.45,144.90h2.0M492.45,143.90v2.0" stroke="#b8a3ab" stroke-width="0.8"/>
<path d="M494.20,144.90h2.0M495.20,143.90v2.0" stroke="#b8a3ab" stroke-width="0.8"/>
<path d="M496.95,144.90h2.0M497.95,143.90v2.0" stroke="#b8a3ab" stroke-width="0.8"/>
<circle cx="507.45" cy="140.60" r="1.1" fill="#4a4a4a"/>
<circle cx="510.20" cy="140.60" r="1.1" fill="#4a4a4a"/>
<circle cx="512.95" cy="140.60" r="1.1" fill="#4a4a4a"/>
<path d="M506.45,144.90h2.0M507.45,143.90v2.0" stroke="#b8a3ab" stroke-width="0.8"/>
<path d="M509.20,144.90h2.0M510.20,143.90v2.0" stroke="#b8a3ab" stroke-width="0.8"/>
<path d="M511.95,144.90h2.0M512.95,143.90v2.0" stroke="#b8a3ab" stroke-width="0.8"/>
<line x1="54.20" y1="193.00" x2="54.20" y2="271.60" stroke="#222" stroke-width="1.3"/>
<line x1="53.60" y1="271.00" x2="132.00" y2="271.00" stroke="#222" stroke-width="1.3"/>
<line x1="51.20" y1="194.50" x2="54.20" y2="194.50" stroke="#222" stroke-width="1.0"/>
<text x="48.50" y="197.50" font-size="8.6" fill="#333" stroke="#333" stroke-width="0.22" text-anchor="end" font-weight="normal" textLength="13.200000000000001" lengthAdjust="spacingAndGlyphs">150</text>
<line x1="51.20" y1="220.00" x2="54.20" y2="220.00" stroke="#222" stroke-width="1.0"/>
<text x="48.50" y="223.00" font-size="8.6" fill="#333" stroke="#333" stroke-width="0.22" text-anchor="end" font-weight="normal" textLength="13.200000000000001" lengthAdjust="spacingAndGlyphs">100</text>
<line x1="51.20" y1="245.50" x2="54.20" y2="245.50" stroke="#222" stroke-width="1.0"/>
<text x="48.50" y="248.50" font-size="8.6" fill="#333" stroke="#333" stroke-width="0.22" text-anchor="end" font-weight="normal" textLength="8.8" lengthAdjust="spacingAndGlyphs">50</text>
<line x1="51.20" y1="271.00" x2="54.20" y2="271.00" stroke="#222" stroke-width="1.0"/>
<text x="48.50" y="274.00" font-size="8.6" fill="#333" stroke="#333" stroke-width="0.22" text-anchor="end" font-weight="normal" textLength="4.4" lengthAdjust="spacingAndGlyphs">0</text>
<line x1="61.10" y1="271.00" x2="61.10" y2="274.20" stroke="#222" stroke-width="1.0"/>
<line x1="76.60" y1="271.00" x2="76.60" y2="274.20" stroke="#222" stroke-width="1.0"/>
<line x1="92.00" y1="271.00" x2="92.00" y2="274.20" stroke="#222" stroke-width="1.0"/>
<line x1="107.20" y1="271.00" x2="107.20" y2="274.20" stroke="#222" stroke-width="1.0"/>
<line x1="122.20" y1="271.00" x2="122.20" y2="274.20" stroke="#222" stroke-width="1.0"/>
<text transform="translate(27.90,228.00) rotate(-90)" font-size="8.6" fill="#333" stroke="#333" stroke-width="0.22" text-anchor="middle" font-weight="normal" textLength="70.5" lengthAdjust="spacingAndGlyphs">PWF-VF (1.0 g fiber)</text>
<text x="29.20" y="188.30" font-size="7.2" fill="#444" stroke="#444" stroke-width="0.22" text-anchor="end" font-weight="normal">iii.</text>
<line x1="76.60" y1="226.88" x2="76.60" y2="218.72" stroke="#aa1538" stroke-width="1.0" stroke-opacity="0.75"/>
<line x1="74.90" y1="226.88" x2="78.30" y2="226.88" stroke="#333" stroke-width="0.9"/>
<line x1="74.90" y1="218.72" x2="78.30" y2="218.72" stroke="#333" stroke-width="0.9"/>
<line x1="92.00" y1="227.14" x2="92.00" y2="220.00" stroke="#aa1538" stroke-width="1.0" stroke-opacity="0.75"/>
<line x1="90.30" y1="227.14" x2="93.70" y2="227.14" stroke="#333" stroke-width="0.9"/>
<line x1="90.30" y1="220.00" x2="93.70" y2="220.00" stroke="#333" stroke-width="0.9"/>
<line x1="107.20" y1="225.10" x2="107.20" y2="217.96" stroke="#aa1538" stroke-width="1.0" stroke-opacity="0.75"/>
<line x1="105.50" y1="225.10" x2="108.90" y2="225.10" stroke="#333" stroke-width="0.9"/>
<line x1="105.50" y1="217.96" x2="108.90" y2="217.96" stroke="#333" stroke-width="0.9"/>
<line x1="122.20" y1="223.72" x2="122.20" y2="209.44" stroke="#aa1538" stroke-width="1.0" stroke-opacity="0.75"/>
<line x1="120.50" y1="223.72" x2="123.90" y2="223.72" stroke="#333" stroke-width="0.9"/>
<line x1="120.50" y1="209.44" x2="123.90" y2="209.44" stroke="#333" stroke-width="0.9"/>
<line x1="76.60" y1="260.65" x2="76.60" y2="253.51" stroke="#aa1538" stroke-width="1.0" stroke-opacity="0.75"/>
<line x1="74.90" y1="260.65" x2="78.30" y2="260.65" stroke="#333" stroke-width="0.9"/>
<line x1="74.90" y1="253.51" x2="78.30" y2="253.51" stroke="#333" stroke-width="0.9"/>
<line x1="92.00" y1="261.41" x2="92.00" y2="251.21" stroke="#aa1538" stroke-width="1.0" stroke-opacity="0.75"/>
<line x1="90.30" y1="261.41" x2="93.70" y2="261.41" stroke="#333" stroke-width="0.9"/>
<line x1="90.30" y1="251.21" x2="93.70" y2="251.21" stroke="#333" stroke-width="0.9"/>
<line x1="107.20" y1="261.41" x2="107.20" y2="251.21" stroke="#aa1538" stroke-width="1.0" stroke-opacity="0.75"/>
<line x1="105.50" y1="261.41" x2="108.90" y2="261.41" stroke="#333" stroke-width="0.9"/>
<line x1="105.50" y1="251.21" x2="108.90" y2="251.21" stroke="#333" stroke-width="0.9"/>
<line x1="122.20" y1="263.61" x2="122.20" y2="252.38" stroke="#aa1538" stroke-width="1.0" stroke-opacity="0.75"/>
<line x1="120.50" y1="263.61" x2="123.90" y2="263.61" stroke="#333" stroke-width="0.9"/>
<line x1="120.50" y1="252.38" x2="123.90" y2="252.38" stroke="#333" stroke-width="0.9"/>
<polyline points="61.10,220.00 76.60,222.81 92.00,223.57 107.20,221.53 122.20,216.58" fill="none" stroke="#aa1538" stroke-width="1.4" stroke-linejoin="round"/>
<polyline points="61.10,220.00 76.60,257.08 92.00,256.31 107.20,256.31 122.20,258.00" fill="none" stroke="#aa1538" stroke-width="1.4" stroke-linejoin="round"/>
<circle cx="76.60" cy="222.81" r="1.85" fill="#fff" stroke="#aa1538" stroke-width="1.0"/>
<circle cx="92.00" cy="223.57" r="1.85" fill="#fff" stroke="#aa1538" stroke-width="1.0"/>
<circle cx="107.20" cy="221.53" r="1.85" fill="#fff" stroke="#aa1538" stroke-width="1.0"/>
<circle cx="122.20" cy="216.58" r="1.85" fill="#fff" stroke="#aa1538" stroke-width="1.0"/>
<circle cx="76.60" cy="257.08" r="1.8" fill="#aa1538"/>
<circle cx="92.00" cy="256.31" r="1.8" fill="#aa1538"/>
<circle cx="107.20" cy="256.31" r="1.8" fill="#aa1538"/>
<circle cx="122.20" cy="258.00" r="1.8" fill="#aa1538"/>
<rect x="59.30" y="218.20" width="3.6" height="3.6" fill="#aa1538"/>
<circle cx="73.85" cy="243.20" r="1.1" fill="#4a4a4a"/>
<circle cx="76.60" cy="243.20" r="1.1" fill="#4a4a4a"/>
<circle cx="79.35" cy="243.20" r="1.1" fill="#4a4a4a"/>
<path d="M72.85,247.50h2.0M73.85,246.50v2.0" stroke="#b8a3ab" stroke-width="0.8"/>
<path d="M75.60,247.50h2.0M76.60,246.50v2.0" stroke="#b8a3ab" stroke-width="0.8"/>
<path d="M78.35,247.50h2.0M79.35,246.50v2.0" stroke="#b8a3ab" stroke-width="0.8"/>
<circle cx="89.25" cy="243.20" r="1.1" fill="#4a4a4a"/>
<circle cx="92.00" cy="243.20" r="1.1" fill="#4a4a4a"/>
<circle cx="94.75" cy="243.20" r="1.1" fill="#4a4a4a"/>
<path d="M88.25,247.50h2.0M89.25,246.50v2.0" stroke="#b8a3ab" stroke-width="0.8"/>
<path d="M91.00,247.50h2.0M92.00,246.50v2.0" stroke="#b8a3ab" stroke-width="0.8"/>
<path d="M93.75,247.50h2.0M94.75,246.50v2.0" stroke="#b8a3ab" stroke-width="0.8"/>
<circle cx="104.45" cy="243.20" r="1.1" fill="#4a4a4a"/>
<circle cx="107.20" cy="243.20" r="1.1" fill="#4a4a4a"/>
<circle cx="109.95" cy="243.20" r="1.1" fill="#4a4a4a"/>
<path d="M103.45,247.50h2.0M104.45,246.50v2.0" stroke="#b8a3ab" stroke-width="0.8"/>
<path d="M106.20,247.50h2.0M107.20,246.50v2.0" stroke="#b8a3ab" stroke-width="0.8"/>
<path d="M108.95,247.50h2.0M109.95,246.50v2.0" stroke="#b8a3ab" stroke-width="0.8"/>
<circle cx="119.45" cy="243.20" r="1.1" fill="#4a4a4a"/>
<circle cx="122.20" cy="243.20" r="1.1" fill="#4a4a4a"/>
<circle cx="124.95" cy="243.20" r="1.1" fill="#4a4a4a"/>
<path d="M118.45,247.50h2.0M119.45,246.50v2.0" stroke="#b8a3ab" stroke-width="0.8"/>
<path d="M121.20,247.50h2.0M122.20,246.50v2.0" stroke="#b8a3ab" stroke-width="0.8"/>
<path d="M123.95,247.50h2.0M124.95,246.50v2.0" stroke="#b8a3ab" stroke-width="0.8"/>
<line x1="182.50" y1="194.50" x2="182.50" y2="273.10" stroke="#222" stroke-width="1.3"/>
<line x1="181.90" y1="272.50" x2="260.60" y2="272.50" stroke="#222" stroke-width="1.3"/>
<line x1="179.50" y1="196.00" x2="182.50" y2="196.00" stroke="#222" stroke-width="1.0"/>
<text x="176.80" y="199.00" font-size="8.6" fill="#333" stroke="#333" stroke-width="0.22" text-anchor="end" font-weight="normal" textLength="13.200000000000001" lengthAdjust="spacingAndGlyphs">130</text>
<line x1="179.50" y1="230.00" x2="182.50" y2="230.00" stroke="#222" stroke-width="1.0"/>
<text x="176.80" y="233.00" font-size="8.6" fill="#333" stroke="#333" stroke-width="0.22" text-anchor="end" font-weight="normal" textLength="8.8" lengthAdjust="spacingAndGlyphs">90</text>
<line x1="179.50" y1="264.00" x2="182.50" y2="264.00" stroke="#222" stroke-width="1.0"/>
<text x="176.80" y="267.00" font-size="8.6" fill="#333" stroke="#333" stroke-width="0.22" text-anchor="end" font-weight="normal" textLength="8.8" lengthAdjust="spacingAndGlyphs">50</text>
<line x1="190.10" y1="272.50" x2="190.10" y2="275.70" stroke="#222" stroke-width="1.0"/>
<line x1="205.30" y1="272.50" x2="205.30" y2="275.70" stroke="#222" stroke-width="1.0"/>
<line x1="220.50" y1="272.50" x2="220.50" y2="275.70" stroke="#222" stroke-width="1.0"/>
<line x1="235.90" y1="272.50" x2="235.90" y2="275.70" stroke="#222" stroke-width="1.0"/>
<line x1="251.10" y1="272.50" x2="251.10" y2="275.70" stroke="#222" stroke-width="1.0"/>
<text transform="translate(156.20,229.50) rotate(-90)" font-size="8.6" fill="#333" stroke="#333" stroke-width="0.22" text-anchor="middle" font-weight="normal" textLength="60.3" lengthAdjust="spacingAndGlyphs">PWF (per 2 mins)</text>
<text x="157.50" y="188.30" font-size="7.2" fill="#444" stroke="#444" stroke-width="0.22" text-anchor="end" font-weight="normal">iv.</text>
<line x1="205.30" y1="218.69" x2="205.30" y2="212.75" stroke="#aa1538" stroke-width="1.0" stroke-opacity="0.75"/>
<line x1="203.60" y1="218.69" x2="207.00" y2="218.69" stroke="#333" stroke-width="0.9"/>
<line x1="203.60" y1="212.75" x2="207.00" y2="212.75" stroke="#333" stroke-width="0.9"/>
<line x1="220.50" y1="226.69" x2="220.50" y2="217.68" stroke="#aa1538" stroke-width="1.0" stroke-opacity="0.75"/>
<line x1="218.80" y1="226.69" x2="222.20" y2="226.69" stroke="#333" stroke-width="0.9"/>
<line x1="218.80" y1="217.68" x2="222.20" y2="217.68" stroke="#333" stroke-width="0.9"/>
<line x1="235.90" y1="222.01" x2="235.90" y2="215.21" stroke="#aa1538" stroke-width="1.0" stroke-opacity="0.75"/>
<line x1="234.20" y1="222.01" x2="237.60" y2="222.01" stroke="#333" stroke-width="0.9"/>
<line x1="234.20" y1="215.21" x2="237.60" y2="215.21" stroke="#333" stroke-width="0.9"/>
<line x1="251.10" y1="224.13" x2="251.10" y2="213.08" stroke="#aa1538" stroke-width="1.0" stroke-opacity="0.75"/>
<line x1="249.40" y1="224.13" x2="252.80" y2="224.13" stroke="#333" stroke-width="0.9"/>
<line x1="249.40" y1="213.08" x2="252.80" y2="213.08" stroke="#333" stroke-width="0.9"/>
<line x1="205.30" y1="248.62" x2="205.30" y2="242.50" stroke="#aa1538" stroke-width="1.0" stroke-opacity="0.75"/>
<line x1="203.60" y1="248.62" x2="207.00" y2="248.62" stroke="#333" stroke-width="0.9"/>
<line x1="203.60" y1="242.50" x2="207.00" y2="242.50" stroke="#333" stroke-width="0.9"/>
<line x1="220.50" y1="257.88" x2="220.50" y2="249.72" stroke="#aa1538" stroke-width="1.0" stroke-opacity="0.75"/>
<line x1="218.80" y1="257.88" x2="222.20" y2="257.88" stroke="#333" stroke-width="0.9"/>
<line x1="218.80" y1="249.72" x2="222.20" y2="249.72" stroke="#333" stroke-width="0.9"/>
<line x1="235.90" y1="256.61" x2="235.90" y2="246.75" stroke="#aa1538" stroke-width="1.0" stroke-opacity="0.75"/>
<line x1="234.20" y1="256.61" x2="237.60" y2="256.61" stroke="#333" stroke-width="0.9"/>
<line x1="234.20" y1="246.75" x2="237.60" y2="246.75" stroke="#333" stroke-width="0.9"/>
<line x1="251.10" y1="251.16" x2="251.10" y2="242.32" stroke="#aa1538" stroke-width="1.0" stroke-opacity="0.75"/>
<line x1="249.40" y1="251.16" x2="252.80" y2="251.16" stroke="#333" stroke-width="0.9"/>
<line x1="249.40" y1="242.32" x2="252.80" y2="242.32" stroke="#333" stroke-width="0.9"/>
<polyline points="190.10,221.50 205.30,215.72 220.50,222.18 235.90,218.61 251.10,218.61" fill="none" stroke="#aa1538" stroke-width="1.4" stroke-linejoin="round"/>
<polyline points="190.10,221.50 205.30,245.56 220.50,253.80 235.90,251.68 251.10,246.75" fill="none" stroke="#aa1538" stroke-width="1.4" stroke-linejoin="round"/>
<circle cx="205.30" cy="215.72" r="1.85" fill="#fff" stroke="#aa1538" stroke-width="1.0"/>
<circle cx="220.50" cy="222.18" r="1.85" fill="#fff" stroke="#aa1538" stroke-width="1.0"/>
<circle cx="235.90" cy="218.61" r="1.85" fill="#fff" stroke="#aa1538" stroke-width="1.0"/>
<circle cx="251.10" cy="218.61" r="1.85" fill="#fff" stroke="#aa1538" stroke-width="1.0"/>
<circle cx="205.30" cy="245.56" r="1.8" fill="#aa1538"/>
<circle cx="220.50" cy="253.80" r="1.8" fill="#aa1538"/>
<circle cx="235.90" cy="251.68" r="1.8" fill="#aa1538"/>
<circle cx="251.10" cy="246.75" r="1.8" fill="#aa1538"/>
<rect x="188.30" y="219.70" width="3.6" height="3.6" fill="#aa1538"/>
<circle cx="205.30" cy="233.40" r="1.1" fill="#4a4a4a"/>
<path d="M201.55,237.70h2.0M202.55,236.70v2.0" stroke="#b8a3ab" stroke-width="0.8"/>
<path d="M204.30,237.70h2.0M205.30,236.70v2.0" stroke="#b8a3ab" stroke-width="0.8"/>
<path d="M207.05,237.70h2.0M208.05,236.70v2.0" stroke="#b8a3ab" stroke-width="0.8"/>
<circle cx="217.75" cy="242.40" r="1.1" fill="#4a4a4a"/>
<circle cx="220.50" cy="242.40" r="1.1" fill="#4a4a4a"/>
<circle cx="223.25" cy="242.40" r="1.1" fill="#4a4a4a"/>
<path d="M216.75,246.70h2.0M217.75,245.70v2.0" stroke="#b8a3ab" stroke-width="0.8"/>
<path d="M219.50,246.70h2.0M220.50,245.70v2.0" stroke="#b8a3ab" stroke-width="0.8"/>
<path d="M222.25,246.70h2.0M223.25,245.70v2.0" stroke="#b8a3ab" stroke-width="0.8"/>
<circle cx="233.15" cy="240.30" r="1.1" fill="#4a4a4a"/>
<circle cx="235.90" cy="240.30" r="1.1" fill="#4a4a4a"/>
<circle cx="238.65" cy="240.30" r="1.1" fill="#4a4a4a"/>
<path d="M232.15,244.60h2.0M233.15,243.60v2.0" stroke="#b8a3ab" stroke-width="0.8"/>
<path d="M234.90,244.60h2.0M235.90,243.60v2.0" stroke="#b8a3ab" stroke-width="0.8"/>
<path d="M237.65,244.60h2.0M238.65,243.60v2.0" stroke="#b8a3ab" stroke-width="0.8"/>
<circle cx="249.72" cy="235.90" r="1.1" fill="#4a4a4a"/>
<circle cx="252.47" cy="235.90" r="1.1" fill="#4a4a4a"/>
<path d="M247.35,240.20h2.0M248.35,239.20v2.0" stroke="#b8a3ab" stroke-width="0.8"/>
<path d="M250.10,240.20h2.0M251.10,239.20v2.0" stroke="#b8a3ab" stroke-width="0.8"/>
<path d="M252.85,240.20h2.0M253.85,239.20v2.0" stroke="#b8a3ab" stroke-width="0.8"/>
<line x1="312.60" y1="193.40" x2="312.60" y2="272.00" stroke="#222" stroke-width="1.3"/>
<line x1="312.00" y1="271.40" x2="390.60" y2="271.40" stroke="#222" stroke-width="1.3"/>
<line x1="309.60" y1="194.90" x2="312.60" y2="194.90" stroke="#222" stroke-width="1.0"/>
<text x="306.90" y="197.90" font-size="8.6" fill="#333" stroke="#333" stroke-width="0.22" text-anchor="end" font-weight="normal" textLength="13.200000000000001" lengthAdjust="spacingAndGlyphs">150</text>
<line x1="309.60" y1="220.40" x2="312.60" y2="220.40" stroke="#222" stroke-width="1.0"/>
<text x="306.90" y="223.40" font-size="8.6" fill="#333" stroke="#333" stroke-width="0.22" text-anchor="end" font-weight="normal" textLength="13.200000000000001" lengthAdjust="spacingAndGlyphs">100</text>
<line x1="309.60" y1="245.90" x2="312.60" y2="245.90" stroke="#222" stroke-width="1.0"/>
<text x="306.90" y="248.90" font-size="8.6" fill="#333" stroke="#333" stroke-width="0.22" text-anchor="end" font-weight="normal" textLength="8.8" lengthAdjust="spacingAndGlyphs">50</text>
<line x1="309.60" y1="271.40" x2="312.60" y2="271.40" stroke="#222" stroke-width="1.0"/>
<text x="306.90" y="274.40" font-size="8.6" fill="#333" stroke="#333" stroke-width="0.22" text-anchor="end" font-weight="normal" textLength="4.4" lengthAdjust="spacingAndGlyphs">0</text>
<line x1="320.30" y1="271.40" x2="320.30" y2="274.60" stroke="#222" stroke-width="1.0"/>
<line x1="335.50" y1="271.40" x2="335.50" y2="274.60" stroke="#222" stroke-width="1.0"/>
<line x1="350.50" y1="271.40" x2="350.50" y2="274.60" stroke="#222" stroke-width="1.0"/>
<line x1="365.50" y1="271.40" x2="365.50" y2="274.60" stroke="#222" stroke-width="1.0"/>
<line x1="380.70" y1="271.40" x2="380.70" y2="274.60" stroke="#222" stroke-width="1.0"/>
<text transform="translate(286.30,229.90) rotate(-90)" font-size="8.6" fill="#333" stroke="#333" stroke-width="0.22" text-anchor="middle" font-weight="normal" textLength="70.5" lengthAdjust="spacingAndGlyphs">PWF-VF (1.0 g fiber)</text>
<text x="287.60" y="188.30" font-size="7.2" fill="#444" stroke="#444" stroke-width="0.22" text-anchor="end" font-weight="normal">ix.</text>
<line x1="335.50" y1="227.54" x2="335.50" y2="213.26" stroke="#aa1538" stroke-width="1.0" stroke-opacity="0.75"/>
<line x1="333.80" y1="227.54" x2="337.20" y2="227.54" stroke="#333" stroke-width="0.9"/>
<line x1="333.80" y1="213.26" x2="337.20" y2="213.26" stroke="#333" stroke-width="0.9"/>
<line x1="350.50" y1="219.84" x2="350.50" y2="210.05" stroke="#aa1538" stroke-width="1.0" stroke-opacity="0.75"/>
<line x1="348.80" y1="219.84" x2="352.20" y2="219.84" stroke="#333" stroke-width="0.9"/>
<line x1="348.80" y1="210.05" x2="352.20" y2="210.05" stroke="#333" stroke-width="0.9"/>
<line x1="365.50" y1="224.63" x2="365.50" y2="218.51" stroke="#aa1538" stroke-width="1.0" stroke-opacity="0.75"/>
<line x1="363.80" y1="224.63" x2="367.20" y2="224.63" stroke="#333" stroke-width="0.9"/>
<line x1="363.80" y1="218.51" x2="367.20" y2="218.51" stroke="#333" stroke-width="0.9"/>
<line x1="380.70" y1="222.69" x2="380.70" y2="216.57" stroke="#aa1538" stroke-width="1.0" stroke-opacity="0.75"/>
<line x1="379.00" y1="222.69" x2="382.40" y2="222.69" stroke="#333" stroke-width="0.9"/>
<line x1="379.00" y1="216.57" x2="382.40" y2="216.57" stroke="#333" stroke-width="0.9"/>
<line x1="335.50" y1="267.01" x2="335.50" y2="258.85" stroke="#aa1538" stroke-width="1.0" stroke-opacity="0.75"/>
<line x1="333.80" y1="267.01" x2="337.20" y2="267.01" stroke="#333" stroke-width="0.9"/>
<line x1="333.80" y1="258.85" x2="337.20" y2="258.85" stroke="#333" stroke-width="0.9"/>
<line x1="350.50" y1="263.04" x2="350.50" y2="254.57" stroke="#aa1538" stroke-width="1.0" stroke-opacity="0.75"/>
<line x1="348.80" y1="263.04" x2="352.20" y2="263.04" stroke="#333" stroke-width="0.9"/>
<line x1="348.80" y1="254.57" x2="352.20" y2="254.57" stroke="#333" stroke-width="0.9"/>
<line x1="365.50" y1="264.87" x2="365.50" y2="253.96" stroke="#aa1538" stroke-width="1.0" stroke-opacity="0.75"/>
<line x1="363.80" y1="264.87" x2="367.20" y2="264.87" stroke="#333" stroke-width="0.9"/>
<line x1="363.80" y1="253.96" x2="367.20" y2="253.96" stroke="#333" stroke-width="0.9"/>
<line x1="380.70" y1="264.26" x2="380.70" y2="253.04" stroke="#aa1538" stroke-width="1.0" stroke-opacity="0.75"/>
<line x1="379.00" y1="264.26" x2="382.40" y2="264.26" stroke="#333" stroke-width="0.9"/>
<line x1="379.00" y1="253.04" x2="382.40" y2="253.04" stroke="#333" stroke-width="0.9"/>
<polyline points="320.30,220.40 335.50,220.40 350.50,214.94 365.50,221.57 380.70,219.63" fill="none" stroke="#aa1538" stroke-width="1.4" stroke-linejoin="round"/>
<polyline points="320.30,220.40 335.50,262.93 350.50,258.80 365.50,259.41 380.70,258.65" fill="none" stroke="#aa1538" stroke-width="1.4" stroke-linejoin="round"/>
<circle cx="335.50" cy="220.40" r="1.85" fill="#fff" stroke="#aa1538" stroke-width="1.0"/>
<circle cx="350.50" cy="214.94" r="1.85" fill="#fff" stroke="#aa1538" stroke-width="1.0"/>
<circle cx="365.50" cy="221.57" r="1.85" fill="#fff" stroke="#aa1538" stroke-width="1.0"/>
<circle cx="380.70" cy="219.63" r="1.85" fill="#fff" stroke="#aa1538" stroke-width="1.0"/>
<circle cx="335.50" cy="262.93" r="1.8" fill="#aa1538"/>
<circle cx="350.50" cy="258.80" r="1.8" fill="#aa1538"/>
<circle cx="365.50" cy="259.41" r="1.8" fill="#aa1538"/>
<circle cx="380.70" cy="258.65" r="1.8" fill="#aa1538"/>
<rect x="318.50" y="218.60" width="3.6" height="3.6" fill="#aa1538"/>
<circle cx="332.75" cy="250.10" r="1.1" fill="#4a4a4a"/>
<circle cx="335.50" cy="250.10" r="1.1" fill="#4a4a4a"/>
<circle cx="338.25" cy="250.10" r="1.1" fill="#4a4a4a"/>
<path d="M331.75,254.40h2.0M332.75,253.40v2.0" stroke="#b8a3ab" stroke-width="0.8"/>
<path d="M334.50,254.40h2.0M335.50,253.40v2.0" stroke="#b8a3ab" stroke-width="0.8"/>
<path d="M337.25,254.40h2.0M338.25,253.40v2.0" stroke="#b8a3ab" stroke-width="0.8"/>
<circle cx="347.75" cy="246.00" r="1.1" fill="#4a4a4a"/>
<circle cx="350.50" cy="246.00" r="1.1" fill="#4a4a4a"/>
<circle cx="353.25" cy="246.00" r="1.1" fill="#4a4a4a"/>
<path d="M346.75,250.30h2.0M347.75,249.30v2.0" stroke="#b8a3ab" stroke-width="0.8"/>
<path d="M349.50,250.30h2.0M350.50,249.30v2.0" stroke="#b8a3ab" stroke-width="0.8"/>
<path d="M352.25,250.30h2.0M353.25,249.30v2.0" stroke="#b8a3ab" stroke-width="0.8"/>
<circle cx="362.75" cy="246.00" r="1.1" fill="#4a4a4a"/>
<circle cx="365.50" cy="246.00" r="1.1" fill="#4a4a4a"/>
<circle cx="368.25" cy="246.00" r="1.1" fill="#4a4a4a"/>
<path d="M361.75,250.30h2.0M362.75,249.30v2.0" stroke="#b8a3ab" stroke-width="0.8"/>
<path d="M364.50,250.30h2.0M365.50,249.30v2.0" stroke="#b8a3ab" stroke-width="0.8"/>
<path d="M367.25,250.30h2.0M368.25,249.30v2.0" stroke="#b8a3ab" stroke-width="0.8"/>
<circle cx="377.95" cy="246.00" r="1.1" fill="#4a4a4a"/>
<circle cx="380.70" cy="246.00" r="1.1" fill="#4a4a4a"/>
<circle cx="383.45" cy="246.00" r="1.1" fill="#4a4a4a"/>
<path d="M376.95,250.30h2.0M377.95,249.30v2.0" stroke="#b8a3ab" stroke-width="0.8"/>
<path d="M379.70,250.30h2.0M380.70,249.30v2.0" stroke="#b8a3ab" stroke-width="0.8"/>
<path d="M382.45,250.30h2.0M383.45,249.30v2.0" stroke="#b8a3ab" stroke-width="0.8"/>
<line x1="441.20" y1="196.00" x2="441.20" y2="274.60" stroke="#222" stroke-width="1.3"/>
<line x1="440.60" y1="274.00" x2="519.50" y2="274.00" stroke="#222" stroke-width="1.3"/>
<line x1="438.20" y1="197.50" x2="441.20" y2="197.50" stroke="#222" stroke-width="1.0"/>
<text x="435.50" y="200.50" font-size="8.6" fill="#333" stroke="#333" stroke-width="0.22" text-anchor="end" font-weight="normal" textLength="13.200000000000001" lengthAdjust="spacingAndGlyphs">130</text>
<line x1="438.20" y1="231.50" x2="441.20" y2="231.50" stroke="#222" stroke-width="1.0"/>
<text x="435.50" y="234.50" font-size="8.6" fill="#333" stroke="#333" stroke-width="0.22" text-anchor="end" font-weight="normal" textLength="8.8" lengthAdjust="spacingAndGlyphs">90</text>
<line x1="438.20" y1="265.50" x2="441.20" y2="265.50" stroke="#222" stroke-width="1.0"/>
<text x="435.50" y="268.50" font-size="8.6" fill="#333" stroke="#333" stroke-width="0.22" text-anchor="end" font-weight="normal" textLength="8.8" lengthAdjust="spacingAndGlyphs">50</text>
<line x1="448.10" y1="274.00" x2="448.10" y2="277.20" stroke="#222" stroke-width="1.0"/>
<line x1="463.60" y1="274.00" x2="463.60" y2="277.20" stroke="#222" stroke-width="1.0"/>
<line x1="478.80" y1="274.00" x2="478.80" y2="277.20" stroke="#222" stroke-width="1.0"/>
<line x1="494.30" y1="274.00" x2="494.30" y2="277.20" stroke="#222" stroke-width="1.0"/>
<line x1="509.70" y1="274.00" x2="509.70" y2="277.20" stroke="#222" stroke-width="1.0"/>
<text transform="translate(414.90,231.00) rotate(-90)" font-size="8.6" fill="#333" stroke="#333" stroke-width="0.22" text-anchor="middle" font-weight="normal" textLength="60.3" lengthAdjust="spacingAndGlyphs">PWF (per 2 mins)</text>
<text x="416.20" y="188.30" font-size="7.2" fill="#444" stroke="#444" stroke-width="0.22" text-anchor="end" font-weight="normal">x.</text>
<line x1="463.60" y1="225.89" x2="463.60" y2="215.35" stroke="#aa1538" stroke-width="1.0" stroke-opacity="0.75"/>
<line x1="461.90" y1="225.89" x2="465.30" y2="225.89" stroke="#333" stroke-width="0.9"/>
<line x1="461.90" y1="215.35" x2="465.30" y2="215.35" stroke="#333" stroke-width="0.9"/>
<line x1="478.80" y1="217.81" x2="478.80" y2="202.00" stroke="#aa1538" stroke-width="1.0" stroke-opacity="0.75"/>
<line x1="477.10" y1="217.81" x2="480.50" y2="217.81" stroke="#333" stroke-width="0.9"/>
<line x1="477.10" y1="202.00" x2="480.50" y2="202.00" stroke="#333" stroke-width="0.9"/>
<line x1="494.30" y1="221.38" x2="494.30" y2="208.30" stroke="#aa1538" stroke-width="1.0" stroke-opacity="0.75"/>
<line x1="492.60" y1="221.38" x2="496.00" y2="221.38" stroke="#333" stroke-width="0.9"/>
<line x1="492.60" y1="208.30" x2="496.00" y2="208.30" stroke="#333" stroke-width="0.9"/>
<line x1="509.70" y1="223.85" x2="509.70" y2="208.21" stroke="#aa1538" stroke-width="1.0" stroke-opacity="0.75"/>
<line x1="508.00" y1="223.85" x2="511.40" y2="223.85" stroke="#333" stroke-width="0.9"/>
<line x1="508.00" y1="208.21" x2="511.40" y2="208.21" stroke="#333" stroke-width="0.9"/>
<line x1="463.60" y1="250.37" x2="463.60" y2="244.42" stroke="#aa1538" stroke-width="1.0" stroke-opacity="0.75"/>
<line x1="461.90" y1="250.37" x2="465.30" y2="250.37" stroke="#333" stroke-width="0.9"/>
<line x1="461.90" y1="244.42" x2="465.30" y2="244.42" stroke="#333" stroke-width="0.9"/>
<line x1="478.80" y1="246.72" x2="478.80" y2="236.85" stroke="#aa1538" stroke-width="1.0" stroke-opacity="0.75"/>
<line x1="477.10" y1="246.72" x2="480.50" y2="246.72" stroke="#333" stroke-width="0.9"/>
<line x1="477.10" y1="236.85" x2="480.50" y2="236.85" stroke="#333" stroke-width="0.9"/>
<line x1="494.30" y1="260.23" x2="494.30" y2="248.50" stroke="#aa1538" stroke-width="1.0" stroke-opacity="0.75"/>
<line x1="492.60" y1="260.23" x2="496.00" y2="260.23" stroke="#333" stroke-width="0.9"/>
<line x1="492.60" y1="248.50" x2="496.00" y2="248.50" stroke="#333" stroke-width="0.9"/>
<line x1="509.70" y1="257.17" x2="509.70" y2="244.93" stroke="#aa1538" stroke-width="1.0" stroke-opacity="0.75"/>
<line x1="508.00" y1="257.17" x2="511.40" y2="257.17" stroke="#333" stroke-width="0.9"/>
<line x1="508.00" y1="244.93" x2="511.40" y2="244.93" stroke="#333" stroke-width="0.9"/>
<polyline points="448.10,223.00 463.60,220.62 478.80,209.91 494.30,214.84 509.70,216.03" fill="none" stroke="#aa1538" stroke-width="1.4" stroke-linejoin="round"/>
<polyline points="448.10,223.00 463.60,247.40 478.80,241.78 494.30,254.37 509.70,251.05" fill="none" stroke="#aa1538" stroke-width="1.4" stroke-linejoin="round"/>
<rect x="462.15" y="219.17" width="2.9" height="2.9" fill="#fff" stroke="#aa1538" stroke-width="0.95"/>
<rect x="477.35" y="208.46" width="2.9" height="2.9" fill="#fff" stroke="#aa1538" stroke-width="0.95"/>
<rect x="492.85" y="213.39" width="2.9" height="2.9" fill="#fff" stroke="#aa1538" stroke-width="0.95"/>
<rect x="508.25" y="214.58" width="2.9" height="2.9" fill="#fff" stroke="#aa1538" stroke-width="0.95"/>
<circle cx="463.60" cy="247.40" r="1.8" fill="#aa1538"/>
<circle cx="478.80" cy="241.78" r="1.8" fill="#aa1538"/>
<circle cx="494.30" cy="254.37" r="1.8" fill="#aa1538"/>
<circle cx="509.70" cy="251.05" r="1.8" fill="#aa1538"/>
<rect x="446.30" y="221.20" width="3.6" height="3.6" fill="#aa1538"/>
<path d="M477.80,232.10h2.0M478.80,231.10v2.0" stroke="#b8a3ab" stroke-width="0.8"/>
<path d="M491.93,244.10h2.0M492.93,243.10v2.0" stroke="#b8a3ab" stroke-width="0.8"/>
<path d="M494.68,244.10h2.0M495.68,243.10v2.0" stroke="#b8a3ab" stroke-width="0.8"/>
<path d="M507.32,242.30h2.0M508.32,241.30v2.0" stroke="#b8a3ab" stroke-width="0.8"/>
<path d="M510.07,242.30h2.0M511.07,241.30v2.0" stroke="#b8a3ab" stroke-width="0.8"/>
<line x1="53.60" y1="295.30" x2="53.60" y2="373.90" stroke="#222" stroke-width="1.3"/>
<line x1="53.00" y1="373.30" x2="131.00" y2="373.30" stroke="#222" stroke-width="1.3"/>
<line x1="50.60" y1="296.80" x2="53.60" y2="296.80" stroke="#222" stroke-width="1.0"/>
<text x="47.90" y="299.80" font-size="8.6" fill="#333" stroke="#333" stroke-width="0.22" text-anchor="end" font-weight="normal" textLength="13.200000000000001" lengthAdjust="spacingAndGlyphs">150</text>
<line x1="50.60" y1="322.30" x2="53.60" y2="322.30" stroke="#222" stroke-width="1.0"/>
<text x="47.90" y="325.30" font-size="8.6" fill="#333" stroke="#333" stroke-width="0.22" text-anchor="end" font-weight="normal" textLength="13.200000000000001" lengthAdjust="spacingAndGlyphs">100</text>
<line x1="50.60" y1="347.80" x2="53.60" y2="347.80" stroke="#222" stroke-width="1.0"/>
<text x="47.90" y="350.80" font-size="8.6" fill="#333" stroke="#333" stroke-width="0.22" text-anchor="end" font-weight="normal" textLength="8.8" lengthAdjust="spacingAndGlyphs">50</text>
<line x1="50.60" y1="373.30" x2="53.60" y2="373.30" stroke="#222" stroke-width="1.0"/>
<text x="47.90" y="376.30" font-size="8.6" fill="#333" stroke="#333" stroke-width="0.22" text-anchor="end" font-weight="normal" textLength="4.4" lengthAdjust="spacingAndGlyphs">0</text>
<line x1="61.10" y1="373.30" x2="61.10" y2="376.50" stroke="#222" stroke-width="1.0"/>
<line x1="76.20" y1="373.30" x2="76.20" y2="376.50" stroke="#222" stroke-width="1.0"/>
<line x1="91.40" y1="373.30" x2="91.40" y2="376.50" stroke="#222" stroke-width="1.0"/>
<line x1="106.40" y1="373.30" x2="106.40" y2="376.50" stroke="#222" stroke-width="1.0"/>
<line x1="121.40" y1="373.30" x2="121.40" y2="376.50" stroke="#222" stroke-width="1.0"/>
<text transform="translate(27.30,332.90) rotate(-90)" font-size="8.6" fill="#333" stroke="#333" stroke-width="0.22" text-anchor="middle" font-weight="normal" textLength="70.5" lengthAdjust="spacingAndGlyphs">PWF-VF (1.0 g fiber)</text>
<text x="28.60" y="291.50" font-size="7.2" fill="#444" stroke="#444" stroke-width="0.22" text-anchor="end" font-weight="normal">v.</text>
<line x1="76.20" y1="318.22" x2="76.20" y2="313.12" stroke="#1b3d6f" stroke-width="1.0" stroke-opacity="0.75"/>
<line x1="74.50" y1="318.22" x2="77.90" y2="318.22" stroke="#333" stroke-width="0.9"/>
<line x1="74.50" y1="313.12" x2="77.90" y2="313.12" stroke="#333" stroke-width="0.9"/>
<line x1="91.40" y1="324.34" x2="91.40" y2="302.92" stroke="#1b3d6f" stroke-width="1.0" stroke-opacity="0.75"/>
<line x1="89.70" y1="324.34" x2="93.10" y2="324.34" stroke="#333" stroke-width="0.9"/>
<line x1="89.70" y1="302.92" x2="93.10" y2="302.92" stroke="#333" stroke-width="0.9"/>
<line x1="106.40" y1="330.66" x2="106.40" y2="313.32" stroke="#1b3d6f" stroke-width="1.0" stroke-opacity="0.75"/>
<line x1="104.70" y1="330.66" x2="108.10" y2="330.66" stroke="#333" stroke-width="0.9"/>
<line x1="104.70" y1="313.32" x2="108.10" y2="313.32" stroke="#333" stroke-width="0.9"/>
<line x1="121.40" y1="330.46" x2="121.40" y2="313.12" stroke="#1b3d6f" stroke-width="1.0" stroke-opacity="0.75"/>
<line x1="119.70" y1="330.46" x2="123.10" y2="330.46" stroke="#333" stroke-width="0.9"/>
<line x1="119.70" y1="313.12" x2="123.10" y2="313.12" stroke="#333" stroke-width="0.9"/>
<line x1="76.20" y1="369.83" x2="76.20" y2="363.20" stroke="#1b3d6f" stroke-width="1.0" stroke-opacity="0.75"/>
<line x1="74.50" y1="369.83" x2="77.90" y2="369.83" stroke="#333" stroke-width="0.9"/>
<line x1="74.50" y1="363.20" x2="77.90" y2="363.20" stroke="#333" stroke-width="0.9"/>
<line x1="91.40" y1="369.22" x2="91.40" y2="353.92" stroke="#1b3d6f" stroke-width="1.0" stroke-opacity="0.75"/>
<line x1="89.70" y1="369.22" x2="93.10" y2="369.22" stroke="#333" stroke-width="0.9"/>
<line x1="89.70" y1="353.92" x2="93.10" y2="353.92" stroke="#333" stroke-width="0.9"/>
<line x1="106.40" y1="367.49" x2="106.40" y2="346.07" stroke="#1b3d6f" stroke-width="1.0" stroke-opacity="0.75"/>
<line x1="104.70" y1="367.49" x2="108.10" y2="367.49" stroke="#333" stroke-width="0.9"/>
<line x1="104.70" y1="346.07" x2="108.10" y2="346.07" stroke="#333" stroke-width="0.9"/>
<line x1="121.40" y1="363.51" x2="121.40" y2="353.31" stroke="#1b3d6f" stroke-width="1.0" stroke-opacity="0.75"/>
<line x1="119.70" y1="363.51" x2="123.10" y2="363.51" stroke="#333" stroke-width="0.9"/>
<line x1="119.70" y1="353.31" x2="123.10" y2="353.31" stroke="#333" stroke-width="0.9"/>
<polyline points="61.10,322.30 76.20,315.67 91.40,313.63 106.40,321.99 121.40,321.79" fill="none" stroke="#1b3d6f" stroke-width="1.4" stroke-linejoin="round"/>
<polyline points="61.10,322.30 76.20,366.52 91.40,361.57 106.40,356.78 121.40,358.41" fill="none" stroke="#1b3d6f" stroke-width="1.4" stroke-linejoin="round"/>
<rect x="74.75" y="314.22" width="2.9" height="2.9" fill="#fff" stroke="#1b3d6f" stroke-width="0.95"/>
<rect x="89.95" y="312.18" width="2.9" height="2.9" fill="#fff" stroke="#1b3d6f" stroke-width="0.95"/>
<rect x="104.95" y="320.54" width="2.9" height="2.9" fill="#fff" stroke="#1b3d6f" stroke-width="0.95"/>
<rect x="119.95" y="320.34" width="2.9" height="2.9" fill="#fff" stroke="#1b3d6f" stroke-width="0.95"/>
<circle cx="76.20" cy="366.52" r="1.8" fill="#1b3d6f"/>
<circle cx="91.40" cy="361.57" r="1.8" fill="#1b3d6f"/>
<circle cx="106.40" cy="356.78" r="1.8" fill="#1b3d6f"/>
<circle cx="121.40" cy="358.41" r="1.8" fill="#1b3d6f"/>
<rect x="59.30" y="320.50" width="3.6" height="3.6" fill="#1b3d6f"/>
<circle cx="74.83" cy="352.10" r="1.1" fill="#4a4a4a"/>
<circle cx="77.58" cy="352.10" r="1.1" fill="#4a4a4a"/>
<path d="M72.45,356.40h2.0M73.45,355.40v2.0" stroke="#b8a3ab" stroke-width="0.8"/>
<path d="M75.20,356.40h2.0M76.20,355.40v2.0" stroke="#b8a3ab" stroke-width="0.8"/>
<path d="M77.95,356.40h2.0M78.95,355.40v2.0" stroke="#b8a3ab" stroke-width="0.8"/>
<circle cx="91.40" cy="343.90" r="1.1" fill="#4a4a4a"/>
<path d="M89.03,348.20h2.0M90.03,347.20v2.0" stroke="#b8a3ab" stroke-width="0.8"/>
<path d="M91.78,348.20h2.0M92.78,347.20v2.0" stroke="#b8a3ab" stroke-width="0.8"/>
<path d="M105.40,343.10h2.0M106.40,342.10v2.0" stroke="#b8a3ab" stroke-width="0.8"/>
<circle cx="121.40" cy="344.80" r="1.1" fill="#4a4a4a"/>
<path d="M120.40,349.10h2.0M121.40,348.10v2.0" stroke="#b8a3ab" stroke-width="0.8"/>
<line x1="181.60" y1="295.70" x2="181.60" y2="374.30" stroke="#222" stroke-width="1.3"/>
<line x1="181.00" y1="373.70" x2="257.50" y2="373.70" stroke="#222" stroke-width="1.3"/>
<line x1="178.60" y1="297.20" x2="181.60" y2="297.20" stroke="#222" stroke-width="1.0"/>
<text x="175.90" y="300.20" font-size="8.6" fill="#333" stroke="#333" stroke-width="0.22" text-anchor="end" font-weight="normal" textLength="13.200000000000001" lengthAdjust="spacingAndGlyphs">130</text>
<line x1="178.60" y1="331.20" x2="181.60" y2="331.20" stroke="#222" stroke-width="1.0"/>
<text x="175.90" y="334.20" font-size="8.6" fill="#333" stroke="#333" stroke-width="0.22" text-anchor="end" font-weight="normal" textLength="8.8" lengthAdjust="spacingAndGlyphs">90</text>
<line x1="178.60" y1="365.20" x2="181.60" y2="365.20" stroke="#222" stroke-width="1.0"/>
<text x="175.90" y="368.20" font-size="8.6" fill="#333" stroke="#333" stroke-width="0.22" text-anchor="end" font-weight="normal" textLength="8.8" lengthAdjust="spacingAndGlyphs">50</text>
<line x1="189.10" y1="373.70" x2="189.10" y2="376.90" stroke="#222" stroke-width="1.0"/>
<line x1="204.50" y1="373.70" x2="204.50" y2="376.90" stroke="#222" stroke-width="1.0"/>
<line x1="219.70" y1="373.70" x2="219.70" y2="376.90" stroke="#222" stroke-width="1.0"/>
<line x1="234.70" y1="373.70" x2="234.70" y2="376.90" stroke="#222" stroke-width="1.0"/>
<line x1="249.90" y1="373.70" x2="249.90" y2="376.90" stroke="#222" stroke-width="1.0"/>
<text transform="translate(155.30,330.70) rotate(-90)" font-size="8.6" fill="#333" stroke="#333" stroke-width="0.22" text-anchor="middle" font-weight="normal" textLength="60.3" lengthAdjust="spacingAndGlyphs">PWF (per 2 mins)</text>
<text x="156.60" y="291.50" font-size="7.2" fill="#444" stroke="#444" stroke-width="0.22" text-anchor="end" font-weight="normal">vi.</text>
<line x1="204.50" y1="332.99" x2="204.50" y2="323.97" stroke="#1b3d6f" stroke-width="1.0" stroke-opacity="0.75"/>
<line x1="202.80" y1="332.99" x2="206.20" y2="332.99" stroke="#333" stroke-width="0.9"/>
<line x1="202.80" y1="323.97" x2="206.20" y2="323.97" stroke="#333" stroke-width="0.9"/>
<line x1="219.70" y1="325.08" x2="219.70" y2="314.88" stroke="#1b3d6f" stroke-width="1.0" stroke-opacity="0.75"/>
<line x1="218.00" y1="325.08" x2="221.40" y2="325.08" stroke="#333" stroke-width="0.9"/>
<line x1="218.00" y1="314.88" x2="221.40" y2="314.88" stroke="#333" stroke-width="0.9"/>
<line x1="234.70" y1="326.27" x2="234.70" y2="316.07" stroke="#1b3d6f" stroke-width="1.0" stroke-opacity="0.75"/>
<line x1="233.00" y1="326.27" x2="236.40" y2="326.27" stroke="#333" stroke-width="0.9"/>
<line x1="233.00" y1="316.07" x2="236.40" y2="316.07" stroke="#333" stroke-width="0.9"/>
<line x1="249.90" y1="325.25" x2="249.90" y2="321.85" stroke="#1b3d6f" stroke-width="1.0" stroke-opacity="0.75"/>
<line x1="248.20" y1="325.25" x2="251.60" y2="325.25" stroke="#333" stroke-width="0.9"/>
<line x1="248.20" y1="321.85" x2="251.60" y2="321.85" stroke="#333" stroke-width="0.9"/>
<line x1="204.50" y1="356.62" x2="204.50" y2="348.96" stroke="#1b3d6f" stroke-width="1.0" stroke-opacity="0.75"/>
<line x1="202.80" y1="356.62" x2="206.20" y2="356.62" stroke="#333" stroke-width="0.9"/>
<line x1="202.80" y1="348.96" x2="206.20" y2="348.96" stroke="#333" stroke-width="0.9"/>
<line x1="219.70" y1="364.01" x2="219.70" y2="357.38" stroke="#1b3d6f" stroke-width="1.0" stroke-opacity="0.75"/>
<line x1="218.00" y1="364.01" x2="221.40" y2="364.01" stroke="#333" stroke-width="0.9"/>
<line x1="218.00" y1="357.38" x2="221.40" y2="357.38" stroke="#333" stroke-width="0.9"/>
<line x1="234.70" y1="364.35" x2="234.70" y2="357.55" stroke="#1b3d6f" stroke-width="1.0" stroke-opacity="0.75"/>
<line x1="233.00" y1="364.35" x2="236.40" y2="364.35" stroke="#333" stroke-width="0.9"/>
<line x1="233.00" y1="357.55" x2="236.40" y2="357.55" stroke="#333" stroke-width="0.9"/>
<line x1="249.90" y1="346.58" x2="249.90" y2="333.50" stroke="#1b3d6f" stroke-width="1.0" stroke-opacity="0.75"/>
<line x1="248.20" y1="346.58" x2="251.60" y2="346.58" stroke="#333" stroke-width="0.9"/>
<line x1="248.20" y1="333.50" x2="251.60" y2="333.50" stroke="#333" stroke-width="0.9"/>
<polyline points="189.10,322.70 204.50,328.48 219.70,319.98 234.70,321.17 249.90,323.55" fill="none" stroke="#1b3d6f" stroke-width="1.4" stroke-linejoin="round"/>
<polyline points="189.10,322.70 204.50,352.79 219.70,360.69 234.70,360.95 249.90,340.04" fill="none" stroke="#1b3d6f" stroke-width="1.4" stroke-linejoin="round"/>
<circle cx="204.50" cy="328.48" r="1.85" fill="#fff" stroke="#1b3d6f" stroke-width="1.0"/>
<circle cx="219.70" cy="319.98" r="1.85" fill="#fff" stroke="#1b3d6f" stroke-width="1.0"/>
<circle cx="234.70" cy="321.17" r="1.85" fill="#fff" stroke="#1b3d6f" stroke-width="1.0"/>
<rect x="248.45" y="322.10" width="2.9" height="2.9" fill="#fff" stroke="#1b3d6f" stroke-width="0.95"/>
<circle cx="204.50" cy="352.79" r="1.8" fill="#1b3d6f"/>
<circle cx="219.70" cy="360.69" r="1.8" fill="#1b3d6f"/>
<circle cx="234.70" cy="360.95" r="1.8" fill="#1b3d6f"/>
<circle cx="249.90" cy="340.04" r="1.8" fill="#1b3d6f"/>
<rect x="187.30" y="320.90" width="3.6" height="3.6" fill="#1b3d6f"/>
<circle cx="201.75" cy="342.00" r="1.1" fill="#4a4a4a"/>
<circle cx="204.50" cy="342.00" r="1.1" fill="#4a4a4a"/>
<circle cx="207.25" cy="342.00" r="1.1" fill="#4a4a4a"/>
<path d="M202.12,346.30h2.0M203.12,345.30v2.0" stroke="#b8a3ab" stroke-width="0.8"/>
<path d="M204.88,346.30h2.0M205.88,345.30v2.0" stroke="#b8a3ab" stroke-width="0.8"/>
<circle cx="216.95" cy="349.70" r="1.1" fill="#4a4a4a"/>
<circle cx="219.70" cy="349.70" r="1.1" fill="#4a4a4a"/>
<circle cx="222.45" cy="349.70" r="1.1" fill="#4a4a4a"/>
<path d="M215.95,354.00h2.0M216.95,353.00v2.0" stroke="#b8a3ab" stroke-width="0.8"/>
<path d="M218.70,354.00h2.0M219.70,353.00v2.0" stroke="#b8a3ab" stroke-width="0.8"/>
<path d="M221.45,354.00h2.0M222.45,353.00v2.0" stroke="#b8a3ab" stroke-width="0.8"/>
<circle cx="231.95" cy="349.70" r="1.1" fill="#4a4a4a"/>
<circle cx="234.70" cy="349.70" r="1.1" fill="#4a4a4a"/>
<circle cx="237.45" cy="349.70" r="1.1" fill="#4a4a4a"/>
<path d="M230.95,354.00h2.0M231.95,353.00v2.0" stroke="#b8a3ab" stroke-width="0.8"/>
<path d="M233.70,354.00h2.0M234.70,353.00v2.0" stroke="#b8a3ab" stroke-width="0.8"/>
<path d="M236.45,354.00h2.0M237.45,353.00v2.0" stroke="#b8a3ab" stroke-width="0.8"/>
<line x1="312.60" y1="295.40" x2="312.60" y2="374.00" stroke="#222" stroke-width="1.3"/>
<line x1="312.00" y1="373.40" x2="390.60" y2="373.40" stroke="#222" stroke-width="1.3"/>
<line x1="309.60" y1="296.90" x2="312.60" y2="296.90" stroke="#222" stroke-width="1.0"/>
<text x="306.90" y="299.90" font-size="8.6" fill="#333" stroke="#333" stroke-width="0.22" text-anchor="end" font-weight="normal" textLength="13.200000000000001" lengthAdjust="spacingAndGlyphs">150</text>
<line x1="309.60" y1="322.40" x2="312.60" y2="322.40" stroke="#222" stroke-width="1.0"/>
<text x="306.90" y="325.40" font-size="8.6" fill="#333" stroke="#333" stroke-width="0.22" text-anchor="end" font-weight="normal" textLength="13.200000000000001" lengthAdjust="spacingAndGlyphs">100</text>
<line x1="309.60" y1="347.90" x2="312.60" y2="347.90" stroke="#222" stroke-width="1.0"/>
<text x="306.90" y="350.90" font-size="8.6" fill="#333" stroke="#333" stroke-width="0.22" text-anchor="end" font-weight="normal" textLength="8.8" lengthAdjust="spacingAndGlyphs">50</text>
<line x1="309.60" y1="373.40" x2="312.60" y2="373.40" stroke="#222" stroke-width="1.0"/>
<text x="306.90" y="376.40" font-size="8.6" fill="#333" stroke="#333" stroke-width="0.22" text-anchor="end" font-weight="normal" textLength="4.4" lengthAdjust="spacingAndGlyphs">0</text>
<line x1="320.30" y1="373.40" x2="320.30" y2="376.60" stroke="#222" stroke-width="1.0"/>
<line x1="335.00" y1="373.40" x2="335.00" y2="376.60" stroke="#222" stroke-width="1.0"/>
<line x1="350.00" y1="373.40" x2="350.00" y2="376.60" stroke="#222" stroke-width="1.0"/>
<line x1="364.90" y1="373.40" x2="364.90" y2="376.60" stroke="#222" stroke-width="1.0"/>
<line x1="379.90" y1="373.40" x2="379.90" y2="376.60" stroke="#222" stroke-width="1.0"/>
<text transform="translate(286.30,330.70) rotate(-90)" font-size="8.6" fill="#333" stroke="#333" stroke-width="0.22" text-anchor="middle" font-weight="normal" textLength="70.5" lengthAdjust="spacingAndGlyphs">PWF-VF (1.0 g fiber)</text>
<text x="287.60" y="291.50" font-size="7.2" fill="#444" stroke="#444" stroke-width="0.22" text-anchor="end" font-weight="normal">xi.</text>
<line x1="335.00" y1="320.10" x2="335.00" y2="310.62" stroke="#1b3d6f" stroke-width="1.0" stroke-opacity="0.75"/>
<line x1="333.30" y1="320.10" x2="336.70" y2="320.10" stroke="#333" stroke-width="0.9"/>
<line x1="333.30" y1="310.62" x2="336.70" y2="310.62" stroke="#333" stroke-width="0.9"/>
<line x1="350.00" y1="331.43" x2="350.00" y2="318.17" stroke="#1b3d6f" stroke-width="1.0" stroke-opacity="0.75"/>
<line x1="348.30" y1="331.43" x2="351.70" y2="331.43" stroke="#333" stroke-width="0.9"/>
<line x1="348.30" y1="318.17" x2="351.70" y2="318.17" stroke="#333" stroke-width="0.9"/>
<line x1="364.90" y1="324.59" x2="364.90" y2="298.07" stroke="#1b3d6f" stroke-width="1.0" stroke-opacity="0.75"/>
<line x1="363.20" y1="324.59" x2="366.60" y2="324.59" stroke="#333" stroke-width="0.9"/>
<line x1="363.20" y1="298.07" x2="366.60" y2="298.07" stroke="#333" stroke-width="0.9"/>
<line x1="379.90" y1="319.44" x2="379.90" y2="299.04" stroke="#1b3d6f" stroke-width="1.0" stroke-opacity="0.75"/>
<line x1="378.20" y1="319.44" x2="381.60" y2="319.44" stroke="#333" stroke-width="0.9"/>
<line x1="378.20" y1="299.04" x2="381.60" y2="299.04" stroke="#333" stroke-width="0.9"/>
<line x1="335.00" y1="367.08" x2="335.00" y2="347.70" stroke="#1b3d6f" stroke-width="1.0" stroke-opacity="0.75"/>
<line x1="333.30" y1="367.08" x2="336.70" y2="367.08" stroke="#333" stroke-width="0.9"/>
<line x1="333.30" y1="347.70" x2="336.70" y2="347.70" stroke="#333" stroke-width="0.9"/>
<line x1="350.00" y1="369.17" x2="350.00" y2="361.72" stroke="#1b3d6f" stroke-width="1.0" stroke-opacity="0.75"/>
<line x1="348.30" y1="369.17" x2="351.70" y2="369.17" stroke="#333" stroke-width="0.9"/>
<line x1="348.30" y1="361.72" x2="351.70" y2="361.72" stroke="#333" stroke-width="0.9"/>
<line x1="364.90" y1="361.87" x2="364.90" y2="351.98" stroke="#1b3d6f" stroke-width="1.0" stroke-opacity="0.75"/>
<line x1="363.20" y1="361.87" x2="366.60" y2="361.87" stroke="#333" stroke-width="0.9"/>
<line x1="363.20" y1="351.98" x2="366.60" y2="351.98" stroke="#333" stroke-width="0.9"/>
<line x1="379.90" y1="361.11" x2="379.90" y2="352.03" stroke="#1b3d6f" stroke-width="1.0" stroke-opacity="0.75"/>
<line x1="378.20" y1="361.11" x2="381.60" y2="361.11" stroke="#333" stroke-width="0.9"/>
<line x1="378.20" y1="352.03" x2="381.60" y2="352.03" stroke="#333" stroke-width="0.9"/>
<polyline points="320.30,322.40 335.00,315.36 350.00,324.80 364.90,311.33 379.90,309.24" fill="none" stroke="#1b3d6f" stroke-width="1.4" stroke-linejoin="round"/>
<polyline points="320.30,322.40 335.00,357.39 350.00,365.44 364.90,356.93 379.90,356.57" fill="none" stroke="#1b3d6f" stroke-width="1.4" stroke-linejoin="round"/>
<rect x="333.55" y="313.91" width="2.9" height="2.9" fill="#fff" stroke="#1b3d6f" stroke-width="0.95"/>
<rect x="348.55" y="323.35" width="2.9" height="2.9" fill="#fff" stroke="#1b3d6f" stroke-width="0.95"/>
<rect x="363.45" y="309.88" width="2.9" height="2.9" fill="#fff" stroke="#1b3d6f" stroke-width="0.95"/>
<rect x="378.45" y="307.79" width="2.9" height="2.9" fill="#fff" stroke="#1b3d6f" stroke-width="0.95"/>
<circle cx="335.00" cy="357.39" r="1.8" fill="#1b3d6f"/>
<circle cx="350.00" cy="365.44" r="1.8" fill="#1b3d6f"/>
<circle cx="364.90" cy="356.93" r="1.8" fill="#1b3d6f"/>
<circle cx="379.90" cy="356.57" r="1.8" fill="#1b3d6f"/>
<rect x="318.50" y="320.60" width="3.6" height="3.6" fill="#1b3d6f"/>
<circle cx="335.00" cy="341.50" r="1.1" fill="#4a4a4a"/>
<path d="M332.62,345.80h2.0M333.62,344.80v2.0" stroke="#b8a3ab" stroke-width="0.8"/>
<path d="M335.38,345.80h2.0M336.38,344.80v2.0" stroke="#b8a3ab" stroke-width="0.8"/>
<circle cx="348.62" cy="352.90" r="1.1" fill="#4a4a4a"/>
<circle cx="351.38" cy="352.90" r="1.1" fill="#4a4a4a"/>
<path d="M347.62,357.20h2.0M348.62,356.20v2.0" stroke="#b8a3ab" stroke-width="0.8"/>
<path d="M350.38,357.20h2.0M351.38,356.20v2.0" stroke="#b8a3ab" stroke-width="0.8"/>
<circle cx="364.90" cy="343.10" r="1.1" fill="#4a4a4a"/>
<path d="M361.15,347.40h2.0M362.15,346.40v2.0" stroke="#b8a3ab" stroke-width="0.8"/>
<path d="M363.90,347.40h2.0M364.90,346.40v2.0" stroke="#b8a3ab" stroke-width="0.8"/>
<path d="M366.65,347.40h2.0M367.65,346.40v2.0" stroke="#b8a3ab" stroke-width="0.8"/>
<circle cx="379.90" cy="343.10" r="1.1" fill="#4a4a4a"/>
<path d="M376.15,347.40h2.0M377.15,346.40v2.0" stroke="#b8a3ab" stroke-width="0.8"/>
<path d="M378.90,347.40h2.0M379.90,346.40v2.0" stroke="#b8a3ab" stroke-width="0.8"/>
<path d="M381.65,347.40h2.0M382.65,346.40v2.0" stroke="#b8a3ab" stroke-width="0.8"/>
<line x1="439.90" y1="296.20" x2="439.90" y2="374.80" stroke="#222" stroke-width="1.3"/>
<line x1="439.30" y1="374.20" x2="518.70" y2="374.20" stroke="#222" stroke-width="1.3"/>
<line x1="436.90" y1="297.70" x2="439.90" y2="297.70" stroke="#222" stroke-width="1.0"/>
<text x="434.20" y="300.70" font-size="8.6" fill="#333" stroke="#333" stroke-width="0.22" text-anchor="end" font-weight="normal" textLength="13.200000000000001" lengthAdjust="spacingAndGlyphs">130</text>
<line x1="436.90" y1="331.70" x2="439.90" y2="331.70" stroke="#222" stroke-width="1.0"/>
<text x="434.20" y="334.70" font-size="8.6" fill="#333" stroke="#333" stroke-width="0.22" text-anchor="end" font-weight="normal" textLength="8.8" lengthAdjust="spacingAndGlyphs">90</text>
<line x1="436.90" y1="365.70" x2="439.90" y2="365.70" stroke="#222" stroke-width="1.0"/>
<text x="434.20" y="368.70" font-size="8.6" fill="#333" stroke="#333" stroke-width="0.22" text-anchor="end" font-weight="normal" textLength="8.8" lengthAdjust="spacingAndGlyphs">50</text>
<line x1="447.30" y1="374.20" x2="447.30" y2="377.40" stroke="#222" stroke-width="1.0"/>
<line x1="462.50" y1="374.20" x2="462.50" y2="377.40" stroke="#222" stroke-width="1.0"/>
<line x1="477.80" y1="374.20" x2="477.80" y2="377.40" stroke="#222" stroke-width="1.0"/>
<line x1="492.70" y1="374.20" x2="492.70" y2="377.40" stroke="#222" stroke-width="1.0"/>
<line x1="507.70" y1="374.20" x2="507.70" y2="377.40" stroke="#222" stroke-width="1.0"/>
<text transform="translate(413.60,331.20) rotate(-90)" font-size="8.6" fill="#333" stroke="#333" stroke-width="0.22" text-anchor="middle" font-weight="normal" textLength="60.3" lengthAdjust="spacingAndGlyphs">PWF (per 2 mins)</text>
<text x="414.90" y="291.50" font-size="7.2" fill="#444" stroke="#444" stroke-width="0.22" text-anchor="end" font-weight="normal">xii.</text>
<line x1="462.50" y1="332.89" x2="462.50" y2="323.88" stroke="#1b3d6f" stroke-width="1.0" stroke-opacity="0.75"/>
<line x1="460.80" y1="332.89" x2="464.20" y2="332.89" stroke="#333" stroke-width="0.9"/>
<line x1="460.80" y1="323.88" x2="464.20" y2="323.88" stroke="#333" stroke-width="0.9"/>
<line x1="477.80" y1="329.24" x2="477.80" y2="319.20" stroke="#1b3d6f" stroke-width="1.0" stroke-opacity="0.75"/>
<line x1="476.10" y1="329.24" x2="479.50" y2="329.24" stroke="#333" stroke-width="0.9"/>
<line x1="476.10" y1="319.20" x2="479.50" y2="319.20" stroke="#333" stroke-width="0.9"/>
<line x1="492.70" y1="329.49" x2="492.70" y2="319.63" stroke="#1b3d6f" stroke-width="1.0" stroke-opacity="0.75"/>
<line x1="491.00" y1="329.49" x2="494.40" y2="329.49" stroke="#333" stroke-width="0.9"/>
<line x1="491.00" y1="319.63" x2="494.40" y2="319.63" stroke="#333" stroke-width="0.9"/>
<line x1="507.70" y1="319.97" x2="507.70" y2="300.93" stroke="#1b3d6f" stroke-width="1.0" stroke-opacity="0.75"/>
<line x1="506.00" y1="319.97" x2="509.40" y2="319.97" stroke="#333" stroke-width="0.9"/>
<line x1="506.00" y1="300.93" x2="509.40" y2="300.93" stroke="#333" stroke-width="0.9"/>
<line x1="462.50" y1="356.86" x2="462.50" y2="349.38" stroke="#1b3d6f" stroke-width="1.0" stroke-opacity="0.75"/>
<line x1="460.80" y1="356.86" x2="464.20" y2="356.86" stroke="#333" stroke-width="0.9"/>
<line x1="460.80" y1="349.38" x2="464.20" y2="349.38" stroke="#333" stroke-width="0.9"/>
<line x1="477.80" y1="355.33" x2="477.80" y2="349.21" stroke="#1b3d6f" stroke-width="1.0" stroke-opacity="0.75"/>
<line x1="476.10" y1="355.33" x2="479.50" y2="355.33" stroke="#333" stroke-width="0.9"/>
<line x1="476.10" y1="349.21" x2="479.50" y2="349.21" stroke="#333" stroke-width="0.9"/>
<line x1="492.70" y1="361.70" x2="492.70" y2="351.84" stroke="#1b3d6f" stroke-width="1.0" stroke-opacity="0.75"/>
<line x1="491.00" y1="361.70" x2="494.40" y2="361.70" stroke="#333" stroke-width="0.9"/>
<line x1="491.00" y1="351.84" x2="494.40" y2="351.84" stroke="#333" stroke-width="0.9"/>
<line x1="507.70" y1="366.81" x2="507.70" y2="356.09" stroke="#1b3d6f" stroke-width="1.0" stroke-opacity="0.75"/>
<line x1="506.00" y1="366.81" x2="509.40" y2="366.81" stroke="#333" stroke-width="0.9"/>
<line x1="506.00" y1="356.09" x2="509.40" y2="356.09" stroke="#333" stroke-width="0.9"/>
<polyline points="447.30,323.20 462.50,328.38 477.80,324.22 492.70,324.56 507.70,310.45" fill="none" stroke="#1b3d6f" stroke-width="1.4" stroke-linejoin="round"/>
<polyline points="447.30,323.20 462.50,353.12 477.80,352.27 492.70,356.77 507.70,361.45" fill="none" stroke="#1b3d6f" stroke-width="1.4" stroke-linejoin="round"/>
<rect x="461.05" y="326.94" width="2.9" height="2.9" fill="#fff" stroke="#1b3d6f" stroke-width="0.95"/>
<rect x="476.35" y="322.77" width="2.9" height="2.9" fill="#fff" stroke="#1b3d6f" stroke-width="0.95"/>
<rect x="491.25" y="323.11" width="2.9" height="2.9" fill="#fff" stroke="#1b3d6f" stroke-width="0.95"/>
<rect x="506.25" y="309.00" width="2.9" height="2.9" fill="#fff" stroke="#1b3d6f" stroke-width="0.95"/>
<circle cx="462.50" cy="353.12" r="1.8" fill="#1b3d6f"/>
<circle cx="477.80" cy="352.27" r="1.8" fill="#1b3d6f"/>
<circle cx="492.70" cy="356.77" r="1.8" fill="#1b3d6f"/>
<circle cx="507.70" cy="361.45" r="1.8" fill="#1b3d6f"/>
<rect x="445.50" y="321.40" width="3.6" height="3.6" fill="#1b3d6f"/>
<circle cx="459.75" cy="341.50" r="1.1" fill="#4a4a4a"/>
<circle cx="462.50" cy="341.50" r="1.1" fill="#4a4a4a"/>
<circle cx="465.25" cy="341.50" r="1.1" fill="#4a4a4a"/>
<path d="M461.50,345.80h2.0M462.50,344.80v2.0" stroke="#b8a3ab" stroke-width="0.8"/>
<circle cx="476.43" cy="342.30" r="1.1" fill="#4a4a4a"/>
<circle cx="479.18" cy="342.30" r="1.1" fill="#4a4a4a"/>
<path d="M475.43,346.60h2.0M476.43,345.60v2.0" stroke="#b8a3ab" stroke-width="0.8"/>
<path d="M478.18,346.60h2.0M479.18,345.60v2.0" stroke="#b8a3ab" stroke-width="0.8"/>
<circle cx="489.95" cy="344.40" r="1.1" fill="#4a4a4a"/>
<circle cx="492.70" cy="344.40" r="1.1" fill="#4a4a4a"/>
<circle cx="495.45" cy="344.40" r="1.1" fill="#4a4a4a"/>
<path d="M488.95,348.70h2.0M489.95,347.70v2.0" stroke="#b8a3ab" stroke-width="0.8"/>
<path d="M491.70,348.70h2.0M492.70,347.70v2.0" stroke="#b8a3ab" stroke-width="0.8"/>
<path d="M494.45,348.70h2.0M495.45,347.70v2.0" stroke="#b8a3ab" stroke-width="0.8"/>
<circle cx="504.95" cy="348.80" r="1.1" fill="#4a4a4a"/>
<circle cx="507.70" cy="348.80" r="1.1" fill="#4a4a4a"/>
<circle cx="510.45" cy="348.80" r="1.1" fill="#4a4a4a"/>
<path d="M503.95,353.10h2.0M504.95,352.10v2.0" stroke="#b8a3ab" stroke-width="0.8"/>
<path d="M506.70,353.10h2.0M507.70,352.10v2.0" stroke="#b8a3ab" stroke-width="0.8"/>
<path d="M509.45,353.10h2.0M510.45,352.10v2.0" stroke="#b8a3ab" stroke-width="0.8"/>
<text transform="translate(66.70,383.20) rotate(-45)" font-size="8.3" fill="#333" stroke="#333" stroke-width="0.22" text-anchor="end" font-weight="normal" textLength="29.61" lengthAdjust="spacingAndGlyphs">Baseline</text>
<text transform="translate(78.10,383.20) rotate(-45)" font-size="8.3" fill="#333" stroke="#333" stroke-width="0.22" text-anchor="end" font-weight="normal" textLength="16.3" lengthAdjust="spacingAndGlyphs">2Hrs</text>
<text transform="translate(93.30,383.20) rotate(-45)" font-size="8.3" fill="#333" stroke="#333" stroke-width="0.22" text-anchor="end" font-weight="normal" textLength="16.3" lengthAdjust="spacingAndGlyphs">4Hrs</text>
<text transform="translate(108.30,383.20) rotate(-45)" font-size="8.3" fill="#333" stroke="#333" stroke-width="0.22" text-anchor="end" font-weight="normal" textLength="16.3" lengthAdjust="spacingAndGlyphs">8Hrs</text>
<text transform="translate(123.30,383.20) rotate(-45)" font-size="8.3" fill="#333" stroke="#333" stroke-width="0.22" text-anchor="end" font-weight="normal" textLength="20.59" lengthAdjust="spacingAndGlyphs">24Hrs</text>
<text transform="translate(194.70,383.60) rotate(-45)" font-size="8.3" fill="#333" stroke="#333" stroke-width="0.22" text-anchor="end" font-weight="normal" textLength="29.61" lengthAdjust="spacingAndGlyphs">Baseline</text>
<text transform="translate(206.40,383.60) rotate(-45)" font-size="8.3" fill="#333" stroke="#333" stroke-width="0.22" text-anchor="end" font-weight="normal" textLength="16.3" lengthAdjust="spacingAndGlyphs">2Hrs</text>
<text transform="translate(221.60,383.60) rotate(-45)" font-size="8.3" fill="#333" stroke="#333" stroke-width="0.22" text-anchor="end" font-weight="normal" textLength="16.3" lengthAdjust="spacingAndGlyphs">4Hrs</text>
<text transform="translate(236.60,383.60) rotate(-45)" font-size="8.3" fill="#333" stroke="#333" stroke-width="0.22" text-anchor="end" font-weight="normal" textLength="16.3" lengthAdjust="spacingAndGlyphs">8Hrs</text>
<text transform="translate(251.80,383.60) rotate(-45)" font-size="8.3" fill="#333" stroke="#333" stroke-width="0.22" text-anchor="end" font-weight="normal" textLength="20.59" lengthAdjust="spacingAndGlyphs">24Hrs</text>
<text transform="translate(327.70,383.30) rotate(-45)" font-size="8.3" fill="#333" stroke="#333" stroke-width="0.22" text-anchor="end" font-weight="normal" textLength="29.61" lengthAdjust="spacingAndGlyphs">Baseline</text>
<text transform="translate(337.20,383.30) rotate(-45)" font-size="8.3" fill="#333" stroke="#333" stroke-width="0.22" text-anchor="end" font-weight="normal" textLength="16.3" lengthAdjust="spacingAndGlyphs">2Hrs</text>
<text transform="translate(354.90,383.30) rotate(-45)" font-size="8.3" fill="#333" stroke="#333" stroke-width="0.22" text-anchor="end" font-weight="normal" textLength="20.16" lengthAdjust="spacingAndGlyphs">Day 4</text>
<text transform="translate(369.80,383.30) rotate(-45)" font-size="8.3" fill="#333" stroke="#333" stroke-width="0.22" text-anchor="end" font-weight="normal" textLength="20.16" lengthAdjust="spacingAndGlyphs">Day 8</text>
<text transform="translate(384.80,383.30) rotate(-45)" font-size="8.3" fill="#333" stroke="#333" stroke-width="0.22" text-anchor="end" font-weight="normal" textLength="20.16" lengthAdjust="spacingAndGlyphs">Day 9</text>
<text transform="translate(454.70,384.10) rotate(-45)" font-size="8.3" fill="#333" stroke="#333" stroke-width="0.22" text-anchor="end" font-weight="normal" textLength="29.61" lengthAdjust="spacingAndGlyphs">Baseline</text>
<text transform="translate(464.70,384.10) rotate(-45)" font-size="8.3" fill="#333" stroke="#333" stroke-width="0.22" text-anchor="end" font-weight="normal" textLength="16.3" lengthAdjust="spacingAndGlyphs">2Hrs</text>
<text transform="translate(482.70,384.10) rotate(-45)" font-size="8.3" fill="#333" stroke="#333" stroke-width="0.22" text-anchor="end" font-weight="normal" textLength="20.16" lengthAdjust="spacingAndGlyphs">Day 4</text>
<text transform="translate(497.60,384.10) rotate(-45)" font-size="8.3" fill="#333" stroke="#333" stroke-width="0.22" text-anchor="end" font-weight="normal" textLength="20.16" lengthAdjust="spacingAndGlyphs">Day 8</text>
<text transform="translate(512.60,384.10) rotate(-45)" font-size="8.3" fill="#333" stroke="#333" stroke-width="0.22" text-anchor="end" font-weight="normal" textLength="20.16" lengthAdjust="spacingAndGlyphs">Day 9</text>
<text x="58.60" y="448.20" font-size="10.5" fill="#111" stroke="#111" stroke-width="0.35" text-anchor="start" font-weight="bold" textLength="7.8" lengthAdjust="spacingAndGlyphs">C</text>
<g transform="translate(86.60,452.00) rotate(0)" fill="#35507c" font-size="10.6">
<text x="0" y="0" textLength="67.6" lengthAdjust="spacingAndGlyphs" stroke="#35507c" stroke-width="0.05">50 mg/Kg CBD</text>
<circle cx="74.00" cy="-2.50" r="2.5" fill="none" stroke="#35507c" stroke-width="0.95"/><path d="M75.98,-4.03L80.10,-7.20" stroke="#35507c" stroke-width="0.95" fill="none"/><path d="M78.30,-7.20H80.10V-5.40" stroke="#35507c" stroke-width="0.7" fill="none"/>
<text x="82.20000000000002" y="0" textLength="10.6" lengthAdjust="spacingAndGlyphs" stroke="#35507c" stroke-width="0.05">SS</text>
</g>
<line x1="104.70" y1="465.00" x2="104.70" y2="553.70" stroke="#222" stroke-width="1.3"/>
<line x1="104.10" y1="553.10" x2="161.50" y2="553.10" stroke="#222" stroke-width="1.3"/>
<line x1="101.70" y1="467.70" x2="104.70" y2="467.70" stroke="#222" stroke-width="1.0"/>
<text x="99.00" y="470.70" font-size="8.6" fill="#333" stroke="#333" stroke-width="0.22" text-anchor="end" font-weight="normal" textLength="13.200000000000001" lengthAdjust="spacingAndGlyphs">100</text>
<line x1="101.70" y1="510.40" x2="104.70" y2="510.40" stroke="#222" stroke-width="1.0"/>
<text x="99.00" y="513.40" font-size="8.6" fill="#333" stroke="#333" stroke-width="0.22" text-anchor="end" font-weight="normal" textLength="8.8" lengthAdjust="spacingAndGlyphs">50</text>
<line x1="101.70" y1="553.10" x2="104.70" y2="553.10" stroke="#222" stroke-width="1.0"/>
<text x="99.00" y="556.10" font-size="8.6" fill="#333" stroke="#333" stroke-width="0.22" text-anchor="end" font-weight="normal" textLength="4.4" lengthAdjust="spacingAndGlyphs">0</text>
<line x1="120.40" y1="553.10" x2="120.40" y2="556.10" stroke="#222" stroke-width="1.0"/>
<line x1="145.20" y1="553.10" x2="145.20" y2="556.10" stroke="#222" stroke-width="1.0"/>
<line x1="120.50" y1="534.57" x2="120.50" y2="527.22" stroke="#56667e" stroke-width="1.1"/>
<line x1="117.00" y1="527.22" x2="124.00" y2="527.22" stroke="#56667e" stroke-width="1.1"/>
<rect x="112.50" y="534.57" width="16.00" height="18.53" fill="#fff" stroke="#86a2c9" stroke-width="1"/>
<line x1="145.50" y1="506.98" x2="145.50" y2="498.44" stroke="#134b93" stroke-width="1.1"/>
<line x1="142.00" y1="498.44" x2="149.00" y2="498.44" stroke="#134b93" stroke-width="1.1"/>
<rect x="138.50" y="506.98" width="14.00" height="46.12" fill="#134b93" stroke="#134b93" stroke-width="1"/>
<polyline points="120.4,515 120.4,466.9 145.3,466.9 145.3,472.7" fill="none" stroke="#333" stroke-width="1"/>
<text x="133.10" y="464.60" font-size="9.0" fill="#222" stroke="#222" stroke-width="0.3" text-anchor="middle" font-weight="normal">*</text>
<circle cx="115.10" cy="522.40" r="2.5" fill="#111"/>
<circle cx="126.20" cy="522.40" r="2.5" fill="#111"/>
<circle cx="120.40" cy="541.10" r="2.5" fill="#111"/>
<circle cx="120.40" cy="551.60" r="2.5" fill="#111"/>
<circle cx="145.30" cy="476.40" r="2.35" fill="#fff" stroke="#111" stroke-width="1.1"/>
<circle cx="145.10" cy="502.80" r="2.35" fill="#fff" stroke="#111" stroke-width="1.1"/>
<circle cx="139.50" cy="511.50" r="2.35" fill="#fff" stroke="#111" stroke-width="1.1"/>
<circle cx="150.90" cy="513.80" r="2.35" fill="#fff" stroke="#111" stroke-width="1.1"/>
<circle cx="145.10" cy="526.10" r="2.35" fill="#fff" stroke="#111" stroke-width="1.1"/>
<text transform="translate(66.20,505.60) rotate(-90)" font-size="9.2" fill="#333" stroke="#333" stroke-width="0.22" text-anchor="middle" font-weight="normal" textLength="23.9" lengthAdjust="spacingAndGlyphs">% Time</text>
<text transform="translate(77.50,506.20) rotate(-90)" font-size="9.2" fill="#333" stroke="#333" stroke-width="0.22" text-anchor="middle" font-weight="normal" textLength="70.1" lengthAdjust="spacingAndGlyphs">Cold (23&#176;C) chamber</text>
<text transform="translate(122.00,563.40) rotate(-45)" font-size="8.6" fill="#333" stroke="#333" stroke-width="0.22" text-anchor="end" font-weight="normal">Vehicle</text>
<text transform="translate(146.80,563.40) rotate(-45)" font-size="8.6" fill="#333" stroke="#333" stroke-width="0.22" text-anchor="end" font-weight="normal" textLength="19.2" lengthAdjust="spacingAndGlyphs">CBD</text>
<text x="196.30" y="448.40" font-size="10.5" fill="#111" stroke="#111" stroke-width="0.35" text-anchor="start" font-weight="bold" textLength="8.0" lengthAdjust="spacingAndGlyphs">D</text>
<g transform="translate(225.20,452.00) rotate(0)" fill="#bd2945" font-size="10.6">
<text x="0" y="0" textLength="67.9" lengthAdjust="spacingAndGlyphs" stroke="#bd2945" stroke-width="0.05">50 mg/Kg CBD</text>
<circle cx="74.80" cy="-5.30" r="2.2" fill="none" stroke="#bd2945" stroke-width="1.1"/><path d="M74.80,-3.10V0.2M73.20,-1.55H76.40" stroke="#bd2945" stroke-width="1.1" fill="none"/>
<text x="82.80000000000001" y="0" textLength="9.6" lengthAdjust="spacingAndGlyphs" stroke="#bd2945" stroke-width="0.05">SS</text>
</g>
<line x1="227.00" y1="459.00" x2="227.00" y2="554.85" stroke="#222" stroke-width="1.3"/>
<line x1="226.40" y1="554.25" x2="316.50" y2="554.25" stroke="#222" stroke-width="1.3"/>
<line x1="224.00" y1="461.25" x2="227.00" y2="461.25" stroke="#222" stroke-width="1.0"/>
<text x="221.30" y="464.25" font-size="8.6" fill="#333" stroke="#333" stroke-width="0.22" text-anchor="end" font-weight="normal" textLength="13.200000000000001" lengthAdjust="spacingAndGlyphs">300</text>
<line x1="224.00" y1="492.25" x2="227.00" y2="492.25" stroke="#222" stroke-width="1.0"/>
<text x="221.30" y="495.25" font-size="8.6" fill="#333" stroke="#333" stroke-width="0.22" text-anchor="end" font-weight="normal" textLength="13.200000000000001" lengthAdjust="spacingAndGlyphs">200</text>
<line x1="224.00" y1="523.25" x2="227.00" y2="523.25" stroke="#222" stroke-width="1.0"/>
<text x="221.30" y="526.25" font-size="8.6" fill="#333" stroke="#333" stroke-width="0.22" text-anchor="end" font-weight="normal" textLength="13.200000000000001" lengthAdjust="spacingAndGlyphs">100</text>
<line x1="224.00" y1="554.25" x2="227.00" y2="554.25" stroke="#222" stroke-width="1.0"/>
<text x="221.30" y="557.25" font-size="8.6" fill="#333" stroke="#333" stroke-width="0.22" text-anchor="end" font-weight="normal" textLength="4.4" lengthAdjust="spacingAndGlyphs">0</text>
<line x1="238.20" y1="554.25" x2="238.20" y2="557.25" stroke="#222" stroke-width="1.0"/>
<line x1="256.50" y1="554.25" x2="256.50" y2="557.25" stroke="#222" stroke-width="1.0"/>
<line x1="287.80" y1="554.25" x2="287.80" y2="557.25" stroke="#222" stroke-width="1.0"/>
<line x1="305.80" y1="554.25" x2="305.80" y2="557.25" stroke="#222" stroke-width="1.0"/>
<line x1="238.00" y1="506.26" x2="238.00" y2="500.62" stroke="#bd4560" stroke-width="1.1"/>
<line x1="234.50" y1="500.62" x2="241.50" y2="500.62" stroke="#bd4560" stroke-width="1.1"/>
<rect x="232.50" y="506.26" width="11.00" height="47.99" fill="#fff" stroke="#bd4560" stroke-width="1"/>
<line x1="256.50" y1="502.01" x2="256.50" y2="498.76" stroke="#bd4560" stroke-width="1.1"/>
<line x1="253.00" y1="498.76" x2="260.00" y2="498.76" stroke="#bd4560" stroke-width="1.1"/>
<rect x="250.50" y="502.01" width="12.00" height="52.24" fill="#fff" stroke="#bd4560" stroke-width="1"/>
<line x1="288.00" y1="500.00" x2="288.00" y2="492.56" stroke="#c5062d" stroke-width="1.1"/>
<line x1="284.50" y1="492.56" x2="291.50" y2="492.56" stroke="#c5062d" stroke-width="1.1"/>
<rect x="282.50" y="500.00" width="11.00" height="54.25" fill="#c5062d" stroke="#c5062d" stroke-width="1"/>
<line x1="306.00" y1="501.24" x2="306.00" y2="494.42" stroke="#c5062d" stroke-width="1.1"/>
<line x1="302.50" y1="494.42" x2="309.50" y2="494.42" stroke="#c5062d" stroke-width="1.1"/>
<rect x="300.50" y="501.24" width="11.00" height="53.01" fill="#c5062d" stroke="#c5062d" stroke-width="1"/>
<circle cx="233.80" cy="494.50" r="2.2" fill="#111"/>
<circle cx="242.50" cy="494.50" r="2.2" fill="#111"/>
<circle cx="238.80" cy="502.00" r="2.2" fill="#111"/>
<circle cx="233.80" cy="523.00" r="2.2" fill="#111"/>
<circle cx="242.50" cy="519.50" r="2.2" fill="#111"/>
<circle cx="252.50" cy="494.50" r="2.2" fill="#111"/>
<circle cx="261.30" cy="497.00" r="2.2" fill="#111"/>
<circle cx="252.50" cy="500.50" r="2.2" fill="#111"/>
<circle cx="252.50" cy="510.00" r="2.2" fill="#111"/>
<circle cx="261.30" cy="507.00" r="2.2" fill="#111"/>
<circle cx="287.50" cy="474.30" r="2.2" fill="#fff" stroke="#111" stroke-width="0.95"/>
<circle cx="283.30" cy="498.80" r="2.2" fill="#fff" stroke="#111" stroke-width="0.95"/>
<circle cx="292.00" cy="497.50" r="2.2" fill="#fff" stroke="#111" stroke-width="0.95"/>
<circle cx="287.50" cy="508.80" r="2.2" fill="#fff" stroke="#111" stroke-width="0.95"/>
<circle cx="287.50" cy="517.50" r="2.2" fill="#fff" stroke="#111" stroke-width="0.95"/>
<circle cx="306.30" cy="476.30" r="2.2" fill="#fff" stroke="#111" stroke-width="0.95"/>
<circle cx="306.30" cy="497.00" r="2.2" fill="#fff" stroke="#111" stroke-width="0.95"/>
<circle cx="301.30" cy="506.80" r="2.2" fill="#fff" stroke="#111" stroke-width="0.95"/>
<circle cx="310.50" cy="506.80" r="2.2" fill="#fff" stroke="#111" stroke-width="0.95"/>
<circle cx="306.30" cy="513.80" r="2.2" fill="#fff" stroke="#111" stroke-width="0.95"/>
<text transform="translate(200.00,502.90) rotate(-90)" font-size="9.2" fill="#333" stroke="#333" stroke-width="0.22" text-anchor="middle" font-weight="normal" textLength="48.8" lengthAdjust="spacingAndGlyphs">Time to fall (s)</text>
<text transform="translate(239.80,564.55) rotate(-45)" font-size="8.6" fill="#333" stroke="#333" stroke-width="0.22" text-anchor="end" font-weight="normal">Baseline</text>
<text transform="translate(258.10,564.55) rotate(-45)" font-size="8.6" fill="#333" stroke="#333" stroke-width="0.22" text-anchor="end" font-weight="normal">Day 9</text>
<text transform="translate(289.40,564.55) rotate(-45)" font-size="8.6" fill="#333" stroke="#333" stroke-width="0.22" text-anchor="end" font-weight="normal">Baseline</text>
<text transform="translate(307.40,564.55) rotate(-45)" font-size="8.6" fill="#333" stroke="#333" stroke-width="0.22" text-anchor="end" font-weight="normal">Day 9</text>
<line x1="232.00" y1="589.30" x2="257.00" y2="589.30" stroke="#444" stroke-width="1.1"/>
<line x1="285.50" y1="589.30" x2="310.00" y2="589.30" stroke="#444" stroke-width="1.1"/>
<text x="244.60" y="599.50" font-size="8.8" fill="#333" stroke="#333" stroke-width="0.22" text-anchor="middle" font-weight="normal" textLength="26.7" lengthAdjust="spacingAndGlyphs">Vehicle</text>
<text x="297.50" y="599.50" font-size="8.8" fill="#333" stroke="#333" stroke-width="0.22" text-anchor="middle" font-weight="normal" textLength="17.5" lengthAdjust="spacingAndGlyphs">CBD</text>
<text x="334.80" y="448.40" font-size="10.5" fill="#111" stroke="#111" stroke-width="0.35" text-anchor="start" font-weight="bold" textLength="7.0" lengthAdjust="spacingAndGlyphs">E</text>
<g transform="translate(368.00,452.00) rotate(0)" fill="#35507c" font-size="10.6">
<text x="0" y="0" textLength="69.2" lengthAdjust="spacingAndGlyphs" stroke="#35507c" stroke-width="0.05">50 mg/Kg CBD</text>
<circle cx="73.80" cy="-2.50" r="2.4" fill="none" stroke="#35507c" stroke-width="0.95"/><path d="M75.64,-4.04L79.20,-7.00" stroke="#35507c" stroke-width="0.95" fill="none"/><path d="M77.40,-7.00H79.20V-5.20" stroke="#35507c" stroke-width="0.7" fill="none"/>
<text x="81.89999999999998" y="0" textLength="9.5" lengthAdjust="spacingAndGlyphs" stroke="#35507c" stroke-width="0.05">SS</text>
</g>
<line x1="368.00" y1="459.00" x2="368.00" y2="553.60" stroke="#222" stroke-width="1.3"/>
<line x1="367.40" y1="553.00" x2="458.50" y2="553.00" stroke="#222" stroke-width="1.3"/>
<line x1="365.00" y1="461.20" x2="368.00" y2="461.20" stroke="#222" stroke-width="1.0"/>
<text x="362.30" y="464.20" font-size="8.6" fill="#333" stroke="#333" stroke-width="0.22" text-anchor="end" font-weight="normal" textLength="13.200000000000001" lengthAdjust="spacingAndGlyphs">300</text>
<line x1="365.00" y1="491.80" x2="368.00" y2="491.80" stroke="#222" stroke-width="1.0"/>
<text x="362.30" y="494.80" font-size="8.6" fill="#333" stroke="#333" stroke-width="0.22" text-anchor="end" font-weight="normal" textLength="13.200000000000001" lengthAdjust="spacingAndGlyphs">200</text>
<line x1="365.00" y1="522.40" x2="368.00" y2="522.40" stroke="#222" stroke-width="1.0"/>
<text x="362.30" y="525.40" font-size="8.6" fill="#333" stroke="#333" stroke-width="0.22" text-anchor="end" font-weight="normal" textLength="13.200000000000001" lengthAdjust="spacingAndGlyphs">100</text>
<line x1="365.00" y1="553.00" x2="368.00" y2="553.00" stroke="#222" stroke-width="1.0"/>
<text x="362.30" y="556.00" font-size="8.6" fill="#333" stroke="#333" stroke-width="0.22" text-anchor="end" font-weight="normal" textLength="4.4" lengthAdjust="spacingAndGlyphs">0</text>
<line x1="380.80" y1="553.00" x2="380.80" y2="556.00" stroke="#222" stroke-width="1.0"/>
<line x1="398.80" y1="553.00" x2="398.80" y2="556.00" stroke="#222" stroke-width="1.0"/>
<line x1="429.50" y1="553.00" x2="429.50" y2="556.00" stroke="#222" stroke-width="1.0"/>
<line x1="447.50" y1="553.00" x2="447.50" y2="556.00" stroke="#222" stroke-width="1.0"/>
<line x1="380.50" y1="517.01" x2="380.50" y2="511.38" stroke="#60769c" stroke-width="1.1"/>
<line x1="377.00" y1="511.38" x2="384.00" y2="511.38" stroke="#60769c" stroke-width="1.1"/>
<rect x="374.50" y="517.01" width="12.00" height="35.99" fill="#fff" stroke="#60769c" stroke-width="1"/>
<line x1="398.50" y1="514.44" x2="398.50" y2="509.24" stroke="#60769c" stroke-width="1.1"/>
<line x1="395.00" y1="509.24" x2="402.00" y2="509.24" stroke="#60769c" stroke-width="1.1"/>
<rect x="392.50" y="514.44" width="12.00" height="38.56" fill="#fff" stroke="#60769c" stroke-width="1"/>
<line x1="429.50" y1="512.61" x2="429.50" y2="509.55" stroke="#134b93" stroke-width="1.1"/>
<line x1="426.00" y1="509.55" x2="433.00" y2="509.55" stroke="#134b93" stroke-width="1.1"/>
<rect x="424.50" y="512.61" width="10.00" height="40.39" fill="#134b93" stroke="#134b93" stroke-width="1"/>
<line x1="447.50" y1="511.38" x2="447.50" y2="509.24" stroke="#134b93" stroke-width="1.1"/>
<line x1="444.00" y1="509.24" x2="451.00" y2="509.24" stroke="#134b93" stroke-width="1.1"/>
<rect x="442.50" y="511.38" width="10.00" height="41.62" fill="#134b93" stroke="#134b93" stroke-width="1"/>
<circle cx="380.80" cy="505.50" r="2.2" fill="#111"/>
<circle cx="380.80" cy="512.00" r="2.2" fill="#111"/>
<circle cx="380.80" cy="523.80" r="2.2" fill="#111"/>
<circle cx="380.80" cy="528.80" r="2.2" fill="#111"/>
<circle cx="398.80" cy="499.50" r="2.2" fill="#111"/>
<circle cx="398.80" cy="510.00" r="2.2" fill="#111"/>
<circle cx="394.50" cy="523.80" r="2.2" fill="#111"/>
<circle cx="403.00" cy="523.80" r="2.2" fill="#111"/>
<circle cx="426.30" cy="506.30" r="2.2" fill="#fff" stroke="#111" stroke-width="0.95"/>
<circle cx="430.00" cy="507.50" r="2.2" fill="#fff" stroke="#111" stroke-width="0.95"/>
<circle cx="424.50" cy="513.80" r="2.2" fill="#fff" stroke="#111" stroke-width="0.95"/>
<circle cx="433.80" cy="514.30" r="2.2" fill="#fff" stroke="#111" stroke-width="0.95"/>
<circle cx="429.50" cy="517.50" r="2.2" fill="#fff" stroke="#111" stroke-width="0.95"/>
<circle cx="429.50" cy="523.80" r="2.2" fill="#fff" stroke="#111" stroke-width="0.95"/>
<circle cx="443.60" cy="508.80" r="2.2" fill="#fff" stroke="#111" stroke-width="0.95"/>
<circle cx="448.20" cy="508.60" r="2.2" fill="#fff" stroke="#111" stroke-width="0.95"/>
<circle cx="451.50" cy="510.10" r="2.2" fill="#fff" stroke="#111" stroke-width="0.95"/>
<circle cx="443.80" cy="511.80" r="2.2" fill="#fff" stroke="#111" stroke-width="0.95"/>
<circle cx="447.80" cy="512.20" r="2.2" fill="#fff" stroke="#111" stroke-width="0.95"/>
<circle cx="447.60" cy="519.30" r="2.2" fill="#fff" stroke="#111" stroke-width="0.95"/>
<text transform="translate(341.00,502.90) rotate(-90)" font-size="9.2" fill="#333" stroke="#333" stroke-width="0.22" text-anchor="middle" font-weight="normal" textLength="48.8" lengthAdjust="spacingAndGlyphs">Time to fall (s)</text>
<text transform="translate(382.40,563.30) rotate(-45)" font-size="8.6" fill="#333" stroke="#333" stroke-width="0.22" text-anchor="end" font-weight="normal">Baseline</text>
<text transform="translate(400.40,563.30) rotate(-45)" font-size="8.6" fill="#333" stroke="#333" stroke-width="0.22" text-anchor="end" font-weight="normal">Day 9</text>
<text transform="translate(431.10,563.30) rotate(-45)" font-size="8.6" fill="#333" stroke="#333" stroke-width="0.22" text-anchor="end" font-weight="normal">Baseline</text>
<text transform="translate(449.10,563.30) rotate(-45)" font-size="8.6" fill="#333" stroke="#333" stroke-width="0.22" text-anchor="end" font-weight="normal">Day 9</text>
<line x1="374.50" y1="589.30" x2="399.00" y2="589.30" stroke="#444" stroke-width="1.1"/>
<line x1="427.50" y1="589.30" x2="452.00" y2="589.30" stroke="#444" stroke-width="1.1"/>
<text x="386.80" y="599.50" font-size="8.8" fill="#333" stroke="#333" stroke-width="0.22" text-anchor="middle" font-weight="normal" textLength="26.7" lengthAdjust="spacingAndGlyphs">Vehicle</text>
<text x="439.50" y="599.50" font-size="8.8" fill="#333" stroke="#333" stroke-width="0.22" text-anchor="middle" font-weight="normal" textLength="17.5" lengthAdjust="spacingAndGlyphs">CBD</text>
</svg>
</body></html>
